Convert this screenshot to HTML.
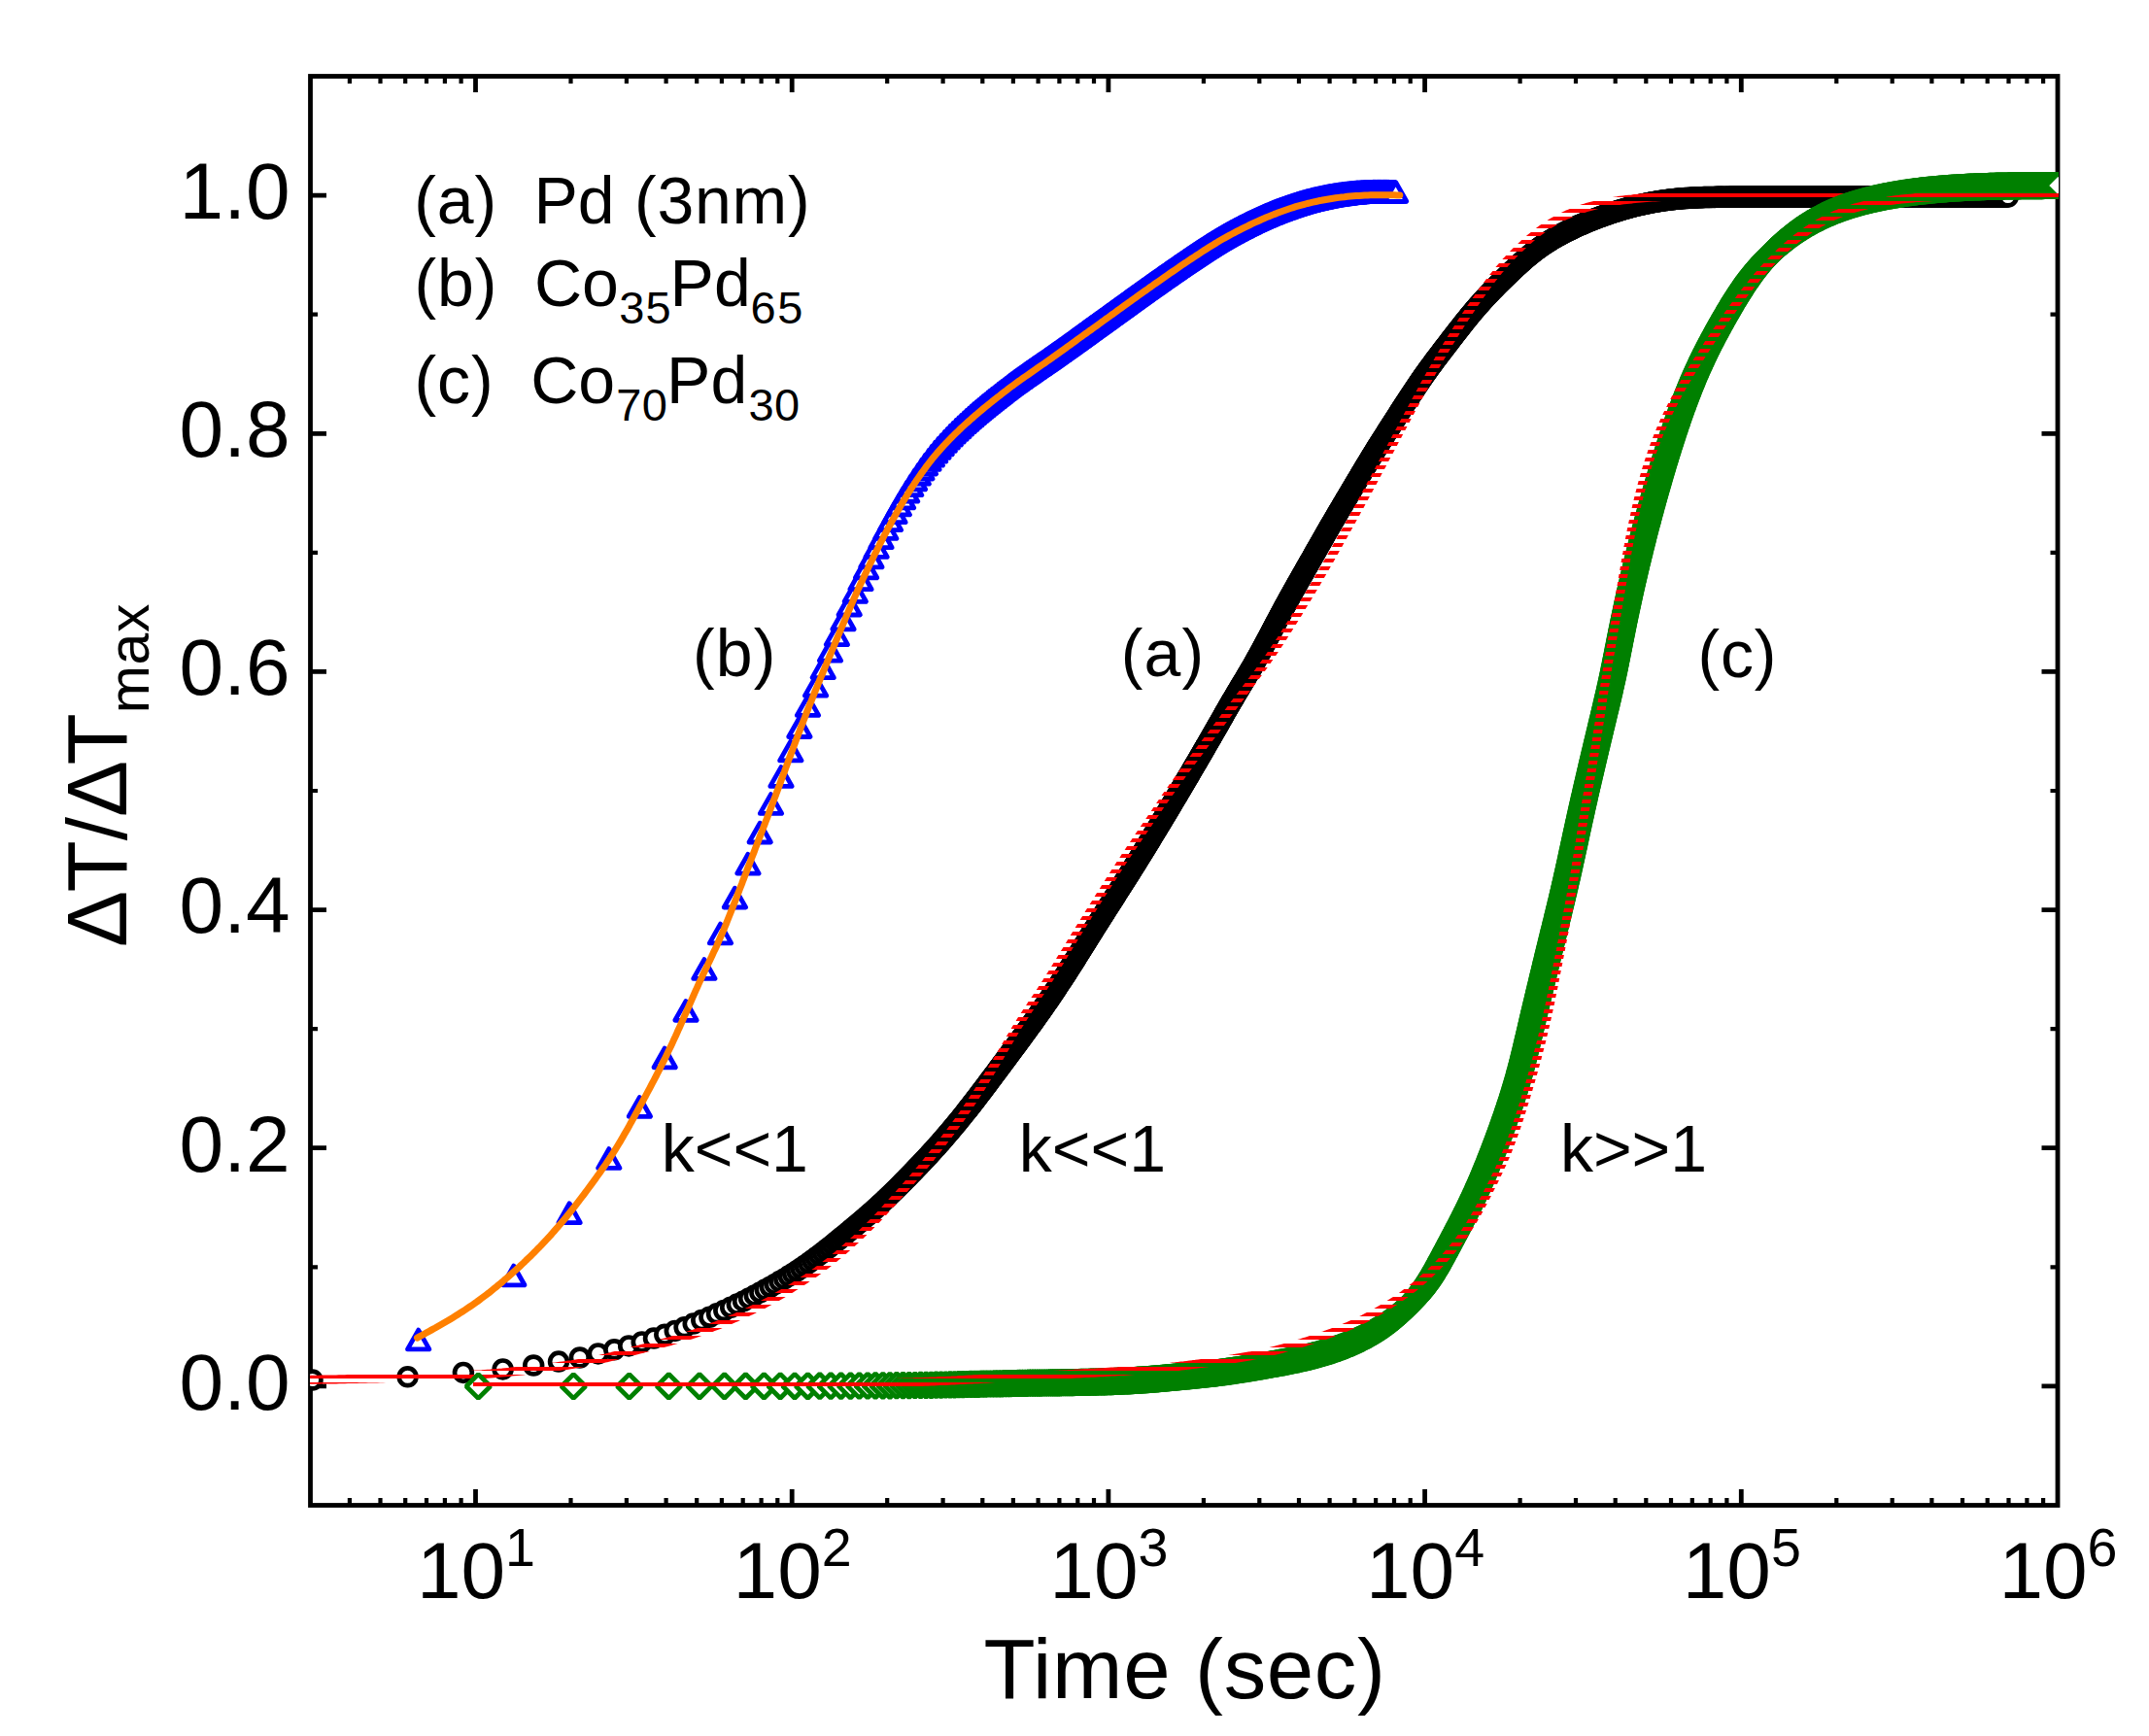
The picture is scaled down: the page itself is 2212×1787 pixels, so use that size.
<!DOCTYPE html>
<html lang="en"><head><meta charset="utf-8"><title>Plot</title>
<style>html,body{margin:0;padding:0;background:#fff}svg{display:block}text{font-family:"Liberation Sans",Arial,sans-serif;fill:#000}</style></head><body>
<svg width="2212" height="1787" viewBox="0 0 2212 1787">
<rect width="2212" height="1787" fill="#fff"/>
<defs>
<clipPath id="cp"><rect x="319" y="76" width="1800" height="1476"/></clipPath>
<pattern id="st" patternUnits="userSpaceOnUse" x="0" y="-1" width="8" height="8"><rect x="0" y="0" width="8" height="4" fill="#f00"/></pattern>
<marker id="mc" markerUnits="userSpaceOnUse" markerWidth="30" markerHeight="30" refX="15" refY="15" overflow="visible"><circle cx="15" cy="15" r="8.9" fill="#fff" stroke="#000" stroke-width="4.7"/></marker>
<marker id="md" markerUnits="userSpaceOnUse" markerWidth="40" markerHeight="40" refX="20" refY="20" overflow="visible"><path d="M20 7.6L32.4 20L20 32.4L7.6 20Z" fill="#fff" stroke="#008000" stroke-width="4.8" stroke-linejoin="bevel"/></marker>
<marker id="mt" markerUnits="userSpaceOnUse" markerWidth="40" markerHeight="40" refX="20" refY="20" overflow="visible"><path d="M20 10.1L31.2 29.9L8.8 29.9Z" fill="#fff" stroke="#00f" stroke-width="4.8" stroke-linejoin="round"/></marker>
</defs>
<g stroke="#000" stroke-width="4.8" fill="none" stroke-linecap="butt">
<rect x="319.5" y="78.5" width="1798.5" height="1471"/>
<path d="M489.5 1549.5v-16.5M489.5 78.5v16.5M815.2 1549.5v-16.5M815.2 78.5v16.5M1140.9 1549.5v-16.5M1140.9 78.5v16.5M1466.6 1549.5v-16.5M1466.6 78.5v16.5M1792.3 1549.5v-16.5M1792.3 78.5v16.5M319.5 1426.9h16.5M2118 1426.9h-16.5M319.5 1181.7h16.5M2118 1181.7h-16.5M319.5 936.6h16.5M2118 936.6h-16.5M319.5 691.4h16.5M2118 691.4h-16.5M319.5 446.3h16.5M2118 446.3h-16.5M319.5 201.1h16.5M2118 201.1h-16.5"/>
<path stroke-width="4.2" d="M359.9 1549.5v-7.5M359.9 78.5v7.5M391.5 1549.5v-7.5M391.5 78.5v7.5M417.2 1549.5v-7.5M417.2 78.5v7.5M439 1549.5v-7.5M439 78.5v7.5M457.9 1549.5v-7.5M457.9 78.5v7.5M474.6 1549.5v-7.5M474.6 78.5v7.5M587.5 1549.5v-7.5M587.5 78.5v7.5M644.9 1549.5v-7.5M644.9 78.5v7.5M685.6 1549.5v-7.5M685.6 78.5v7.5M717.2 1549.5v-7.5M717.2 78.5v7.5M742.9 1549.5v-7.5M742.9 78.5v7.5M764.7 1549.5v-7.5M764.7 78.5v7.5M783.6 1549.5v-7.5M783.6 78.5v7.5M800.3 1549.5v-7.5M800.3 78.5v7.5M913.2 1549.5v-7.5M913.2 78.5v7.5M970.6 1549.5v-7.5M970.6 78.5v7.5M1011.3 1549.5v-7.5M1011.3 78.5v7.5M1042.9 1549.5v-7.5M1042.9 78.5v7.5M1068.6 1549.5v-7.5M1068.6 78.5v7.5M1090.4 1549.5v-7.5M1090.4 78.5v7.5M1109.3 1549.5v-7.5M1109.3 78.5v7.5M1126 1549.5v-7.5M1126 78.5v7.5M1238.9 1549.5v-7.5M1238.9 78.5v7.5M1296.3 1549.5v-7.5M1296.3 78.5v7.5M1337 1549.5v-7.5M1337 78.5v7.5M1368.6 1549.5v-7.5M1368.6 78.5v7.5M1394.3 1549.5v-7.5M1394.3 78.5v7.5M1416.1 1549.5v-7.5M1416.1 78.5v7.5M1435 1549.5v-7.5M1435 78.5v7.5M1451.7 1549.5v-7.5M1451.7 78.5v7.5M1564.6 1549.5v-7.5M1564.6 78.5v7.5M1622 1549.5v-7.5M1622 78.5v7.5M1662.7 1549.5v-7.5M1662.7 78.5v7.5M1694.3 1549.5v-7.5M1694.3 78.5v7.5M1720 1549.5v-7.5M1720 78.5v7.5M1741.8 1549.5v-7.5M1741.8 78.5v7.5M1760.7 1549.5v-7.5M1760.7 78.5v7.5M1777.4 1549.5v-7.5M1777.4 78.5v7.5M1890.3 1549.5v-7.5M1890.3 78.5v7.5M1947.7 1549.5v-7.5M1947.7 78.5v7.5M1988.4 1549.5v-7.5M1988.4 78.5v7.5M2020 1549.5v-7.5M2020 78.5v7.5M2045.7 1549.5v-7.5M2045.7 78.5v7.5M2067.5 1549.5v-7.5M2067.5 78.5v7.5M2086.4 1549.5v-7.5M2086.4 78.5v7.5M2103.1 1549.5v-7.5M2103.1 78.5v7.5M319.5 1304.3h7.5M2118 1304.3h-7.5M319.5 1059.2h7.5M2118 1059.2h-7.5M319.5 814h7.5M2118 814h-7.5M319.5 568.8h7.5M2118 568.8h-7.5M319.5 323.7h7.5M2118 323.7h-7.5"/>
</g>
<g clip-path="url(#cp)" fill="none">
<polyline points="321.5,1420.5 419.6,1417.3 476.9,1412.9 517.6,1409.4 549.2,1405.5 575,1401.6 596.8,1397.5 615.7,1393.4 632.3,1389.3 647.2,1385.4 660.7,1381.4 673,1377.6 684.3,1373.7 694.8,1369.9 704.6,1366.3 713.7,1362.6 722.3,1359.1 730.4,1355.7 738,1352.3 745.3,1349 752.2,1345.7 758.8,1342.6 765.1,1339.4 771.1,1336.4 776.8,1333.4 782.4,1330.4 787.7,1327.5 792.9,1324.7 797.8,1321.9 802.6,1319.1 807.3,1316.4 811.8,1313.6 816.1,1310.9 820.3,1308.2 824.4,1305.5 828.4,1302.8 832.3,1300.1 836.1,1297.3 839.7,1294.6 843.3,1291.9 846.8,1289.3 850.2,1286.6 853.6,1284 856.8,1281.4 860,1278.8 863.1,1276.3 866.1,1273.8 869.1,1271.4 872,1269 874.9,1266.6 877.7,1264.3 880.4,1262 883.1,1259.8 885.8,1257.5 888.4,1255.3 890.9,1253.1 893.4,1251 895.9,1248.8 898.3,1246.7 900.7,1244.5 903,1242.4 905.3,1240.3 907.6,1238.2 909.8,1236.1 912,1234.1 914.2,1232 916.3,1229.9 918.4,1227.9 920.4,1225.9 922.5,1223.9 924.5,1221.9 926.5,1219.9 928.4,1217.9 930.3,1216 932.2,1214.1 934.1,1212.2 936,1210.3 937.8,1208.4 939.6,1206.5 941.4,1204.7 943.1,1202.8 944.9,1201 946.6,1199.2 948.3,1197.4 949.9,1195.7 951.6,1193.9 953.2,1192.2 954.9,1190.4 956.5,1188.7 958,1187 959.6,1185.3 961.1,1183.6 962.7,1181.9 964.2,1180.2 965.7,1178.5 967.2,1176.9 968.6,1175.2 970.1,1173.5 971.5,1171.9 972.9,1170.3 974.3,1168.6 975.7,1167 977.1,1165.4 978.5,1163.8 979.8,1162.1 981.2,1160.5 982.5,1158.9 983.8,1157.4 985.1,1155.8 986.4,1154.2 987.7,1152.6 989,1151.1 990.2,1149.5 991.5,1147.9 992.7,1146.4 993.9,1144.9 995.1,1143.3 995.9,1142.4 996.6,1141.4 997.4,1140.5 998.1,1139.5 998.9,1138.6 999.6,1137.7 1000.3,1136.7 1001.1,1135.8 1001.8,1134.8 1002.5,1133.9 1003.3,1132.9 1004,1132 1004.7,1131 1005.5,1130 1006.2,1129.1 1006.9,1128.1 1007.7,1127.2 1008.4,1126.2 1009.1,1125.3 1009.8,1124.3 1010.6,1123.4 1011.3,1122.4 1012,1121.4 1012.7,1120.5 1013.5,1119.5 1014.2,1118.6 1014.9,1117.6 1015.6,1116.7 1016.3,1115.7 1017.1,1114.7 1017.8,1113.8 1018.5,1112.8 1019.2,1111.8 1019.9,1110.9 1020.7,1109.9 1021.4,1109 1022.1,1108 1022.8,1107 1023.5,1106.1 1024.3,1105.1 1025,1104.1 1025.7,1103.2 1026.4,1102.2 1027.1,1101.3 1027.8,1100.3 1028.6,1099.3 1029.3,1098.4 1030,1097.4 1030.7,1096.4 1031.4,1095.5 1032.1,1094.5 1032.9,1093.5 1033.6,1092.6 1034.3,1091.6 1035,1090.7 1035.7,1089.7 1036.4,1088.7 1037.2,1087.8 1037.9,1086.8 1038.6,1085.8 1039.3,1084.9 1040,1083.9 1040.7,1082.9 1041.4,1082 1042.2,1081 1042.9,1080.1 1043.6,1079.1 1044.3,1078.1 1045,1077.2 1045.7,1076.2 1046.5,1075.2 1047.2,1074.3 1047.9,1073.3 1048.6,1072.3 1049.3,1071.4 1050,1070.4 1050.7,1069.4 1051.4,1068.5 1052.2,1067.5 1052.9,1066.5 1053.6,1065.6 1054.3,1064.6 1055,1063.6 1055.7,1062.6 1056.4,1061.7 1057.1,1060.7 1057.8,1059.7 1058.5,1058.8 1059.2,1057.8 1059.9,1056.8 1060.6,1055.9 1061.4,1054.9 1062.1,1053.9 1062.8,1052.9 1063.5,1052 1064.2,1051 1064.9,1050 1065.6,1049 1066.3,1048.1 1067,1047.1 1067.7,1046.1 1068.4,1045.1 1069,1044.1 1069.7,1043.2 1070.4,1042.2 1071.1,1041.2 1071.8,1040.2 1072.5,1039.2 1073.2,1038.3 1073.9,1037.3 1074.6,1036.3 1075.3,1035.3 1075.9,1034.3 1076.6,1033.3 1077.3,1032.3 1078,1031.4 1078.7,1030.4 1079.4,1029.4 1080,1028.4 1080.7,1027.4 1081.4,1026.4 1082.1,1025.4 1082.7,1024.4 1083.4,1023.4 1084.1,1022.4 1084.8,1021.4 1085.4,1020.4 1086.1,1019.4 1086.8,1018.4 1087.4,1017.4 1088.1,1016.4 1088.8,1015.4 1089.4,1014.4 1090.1,1013.4 1090.7,1012.4 1091.4,1011.4 1092.1,1010.4 1092.7,1009.4 1093.4,1008.4 1094,1007.4 1094.7,1006.4 1095.3,1005.4 1096,1004.4 1096.7,1003.4 1097.3,1002.4 1098,1001.4 1098.6,1000.3 1099.3,999.3 1099.9,998.3 1100.5,997.3 1101.2,996.3 1101.8,995.3 1102.5,994.3 1103.1,993.3 1103.8,992.2 1104.4,991.2 1105.1,990.2 1105.7,989.2 1106.3,988.2 1107,987.2 1107.6,986.2 1108.3,985.1 1108.9,984.1 1109.5,983.1 1110.2,982.1 1110.8,981.1 1111.5,980.1 1112.1,979 1112.7,978 1113.4,977 1114,976 1114.6,975 1115.3,973.9 1115.9,972.9 1116.5,971.9 1117.2,970.9 1117.8,969.9 1118.5,968.9 1119.1,967.8 1119.7,966.8 1120.4,965.8 1121,964.8 1121.6,963.8 1122.3,962.7 1122.9,961.7 1123.5,960.7 1124.2,959.7 1124.8,958.7 1125.5,957.7 1126.1,956.6 1126.7,955.6 1127.4,954.6 1128,953.6 1128.7,952.6 1129.3,951.6 1129.9,950.5 1130.6,949.5 1131.2,948.5 1131.9,947.5 1132.5,946.5 1133.1,945.5 1133.8,944.4 1134.4,943.4 1135.1,942.4 1135.7,941.4 1136.4,940.4 1137,939.4 1137.6,938.4 1138.3,937.3 1138.9,936.3 1139.6,935.3 1140.2,934.3 1140.9,933.3 1141.5,932.3 1142.2,931.3 1142.8,930.3 1143.5,929.3 1144.1,928.2 1144.8,927.2 1145.4,926.2 1146,925.2 1146.7,924.2 1147.3,923.2 1148,922.2 1148.6,921.2 1149.3,920.1 1149.9,919.1 1150.6,918.1 1151.2,917.1 1151.9,916.1 1152.5,915.1 1153.2,914.1 1153.8,913.1 1154.5,912.1 1155.1,911 1155.7,910 1156.4,909 1157,908 1157.7,907 1158.3,906 1159,905 1159.6,903.9 1160.2,902.9 1160.9,901.9 1161.5,900.9 1162.2,899.9 1162.8,898.9 1163.5,897.9 1164.1,896.8 1164.7,895.8 1165.4,894.8 1166,893.8 1166.6,892.8 1167.3,891.7 1167.9,890.7 1168.6,889.7 1169.2,888.7 1169.8,887.7 1170.5,886.7 1171.1,885.6 1171.7,884.6 1172.4,883.6 1173,882.6 1173.6,881.6 1174.3,880.5 1174.9,879.5 1175.5,878.5 1176.2,877.5 1176.8,876.4 1177.4,875.4 1178,874.4 1178.7,873.4 1179.3,872.4 1179.9,871.3 1180.6,870.3 1181.2,869.3 1181.8,868.3 1182.4,867.2 1183.1,866.2 1183.7,865.2 1184.3,864.2 1185,863.1 1185.6,862.1 1186.2,861.1 1186.8,860.1 1187.4,859 1188.1,858 1188.7,857 1189.3,856 1189.9,854.9 1190.6,853.9 1191.2,852.9 1191.8,851.8 1192.4,850.8 1193.1,849.8 1193.7,848.8 1194.3,847.7 1194.9,846.7 1195.5,845.7 1196.2,844.7 1196.8,843.6 1197.4,842.6 1198,841.6 1198.6,840.5 1199.3,839.5 1199.9,838.5 1200.5,837.4 1201.1,836.4 1201.7,835.4 1202.3,834.4 1203,833.3 1203.6,832.3 1204.2,831.3 1204.8,830.2 1205.4,829.2 1206,828.2 1206.7,827.1 1207.3,826.1 1207.9,825.1 1208.5,824 1209.1,823 1209.7,822 1210.3,821 1211,819.9 1211.6,818.9 1212.2,817.9 1212.8,816.8 1213.4,815.8 1214,814.8 1214.6,813.7 1215.2,812.7 1215.9,811.7 1216.5,810.6 1217.1,809.6 1217.7,808.6 1218.3,807.5 1218.9,806.5 1219.5,805.4 1220.1,804.4 1220.7,803.4 1221.3,802.3 1221.9,801.3 1222.6,800.3 1223.2,799.2 1223.8,798.2 1224.4,797.2 1225,796.1 1225.6,795.1 1226.2,794.1 1226.8,793 1227.4,792 1228,791 1228.6,789.9 1229.2,788.9 1229.8,787.8 1230.5,786.8 1231.1,785.8 1231.7,784.7 1232.3,783.7 1232.9,782.7 1233.5,781.6 1234.1,780.6 1234.7,779.5 1235.3,778.5 1235.9,777.5 1236.5,776.4 1237.1,775.4 1237.7,774.4 1238.3,773.3 1238.9,772.3 1239.5,771.2 1240.1,770.2 1240.7,769.2 1241.3,768.1 1241.9,767.1 1242.5,766.1 1243.1,765 1243.7,764 1244.3,762.9 1244.9,761.9 1245.6,760.9 1246.2,759.8 1246.8,758.8 1247.3,757.7 1247.9,756.7 1248.5,755.7 1249.1,754.6 1249.7,753.6 1250.3,752.5 1250.9,751.5 1251.5,750.4 1252.1,749.4 1252.7,748.4 1253.3,747.3 1253.9,746.3 1254.5,745.2 1255.1,744.2 1255.7,743.1 1256.3,742.1 1256.9,741.1 1257.5,740 1258.1,739 1258.7,737.9 1259.3,736.9 1259.9,735.8 1260.4,734.8 1261,733.7 1261.6,732.7 1262.2,731.7 1262.8,730.6 1263.4,729.6 1264,728.5 1264.6,727.5 1265.2,726.5 1265.8,725.4 1266.4,724.4 1267,723.3 1267.6,722.3 1268.2,721.3 1268.9,720.2 1269.5,719.2 1270.1,718.2 1270.7,717.1 1271.3,716.1 1271.9,715.1 1272.5,714 1273.1,713 1273.7,712 1274.4,710.9 1275,709.9 1275.6,708.9 1276.2,707.8 1276.8,706.8 1277.4,705.8 1278.1,704.7 1278.7,703.7 1279.3,702.7 1279.9,701.7 1280.5,700.6 1281.2,699.6 1281.8,698.6 1282.4,697.5 1283,696.5 1283.6,695.5 1284.2,694.4 1284.8,693.4 1285.4,692.4 1286.1,691.3 1286.7,690.3 1287.3,689.3 1287.9,688.2 1288.5,687.2 1289.1,686.2 1289.7,685.1 1290.3,684.1 1290.9,683 1291.5,682 1292.1,680.9 1292.6,679.9 1293.2,678.8 1293.8,677.8 1294.4,676.7 1295,675.7 1295.6,674.6 1296.2,673.6 1296.7,672.5 1297.3,671.5 1297.9,670.4 1298.5,669.4 1299,668.3 1299.6,667.3 1300.2,666.2 1300.7,665.2 1301.3,664.1 1301.9,663 1302.4,662 1303,660.9 1303.6,659.9 1304.1,658.8 1304.7,657.7 1305.3,656.7 1305.8,655.6 1306.4,654.6 1306.9,653.5 1307.5,652.4 1308.1,651.4 1308.6,650.3 1309.2,649.2 1309.7,648.2 1310.3,647.1 1310.9,646 1311.4,645 1312,643.9 1312.5,642.9 1313.1,641.8 1313.6,640.7 1314.2,639.7 1314.8,638.6 1315.3,637.6 1315.9,636.5 1316.5,635.4 1317,634.4 1317.6,633.3 1318.2,632.3 1318.7,631.2 1319.3,630.1 1319.9,629.1 1320.4,628 1321,627 1321.6,625.9 1322.1,624.8 1322.7,623.8 1323.3,622.7 1323.9,621.7 1324.4,620.6 1325,619.6 1325.6,618.5 1326.2,617.5 1326.7,616.4 1327.3,615.4 1327.9,614.3 1328.5,613.3 1329.1,612.2 1329.7,611.2 1330.2,610.1 1330.8,609.1 1331.4,608 1332,607 1332.6,605.9 1333.2,604.9 1333.8,603.8 1334.4,602.8 1334.9,601.7 1335.5,600.7 1336.1,599.7 1336.7,598.6 1337.3,597.6 1337.9,596.5 1338.5,595.5 1339.1,594.4 1339.7,593.4 1340.3,592.3 1340.9,591.3 1341.5,590.3 1342.1,589.2 1342.7,588.2 1343.2,587.1 1343.8,586.1 1344.4,585 1345,584 1345.6,582.9 1346.2,581.9 1346.8,580.9 1347.4,579.8 1348,578.8 1348.6,577.7 1349.2,576.7 1349.8,575.6 1350.4,574.6 1351,573.6 1351.6,572.5 1352.2,571.5 1352.7,570.4 1353.3,569.4 1353.9,568.3 1354.5,567.3 1355.1,566.2 1355.7,565.2 1356.3,564.2 1356.9,563.1 1357.5,562.1 1358.1,561 1358.7,560 1359.3,558.9 1359.9,557.9 1360.5,556.9 1361.1,555.8 1361.7,554.8 1362.3,553.7 1362.9,552.7 1363.4,551.6 1364,550.6 1364.6,549.6 1365.2,548.5 1365.8,547.5 1366.4,546.4 1367,545.4 1367.6,544.4 1368.2,543.3 1368.8,542.3 1369.4,541.2 1370,540.2 1370.6,539.2 1371.2,538.1 1371.9,537.1 1372.5,536 1373.1,535 1373.7,534 1374.3,532.9 1374.9,531.9 1375.5,530.9 1376.1,529.8 1376.7,528.8 1377.3,527.7 1377.9,526.7 1378.5,525.7 1379.1,524.6 1379.7,523.6 1380.4,522.6 1381,521.5 1381.6,520.5 1382.2,519.5 1382.8,518.4 1383.4,517.4 1384,516.4 1384.6,515.3 1385.2,514.3 1385.9,513.3 1386.5,512.2 1387.1,511.2 1387.7,510.2 1388.3,509.1 1388.9,508.1 1389.5,507.1 1390.2,506 1390.8,505 1391.4,504 1392,503 1392.6,501.9 1393.2,500.9 1393.8,499.9 1394.5,498.8 1395.1,497.8 1395.7,496.8 1396.3,495.7 1396.9,494.7 1397.5,493.7 1398.1,492.6 1398.8,491.6 1399.4,490.6 1400,489.5 1400.6,488.5 1401.2,487.5 1401.8,486.4 1402.4,485.4 1403.1,484.4 1403.7,483.4 1404.3,482.3 1404.9,481.3 1405.5,480.3 1406.2,479.2 1406.8,478.2 1407.4,477.2 1408,476.2 1408.6,475.1 1409.3,474.1 1409.9,473.1 1410.5,472 1411.1,471 1411.8,470 1412.4,469 1413,467.9 1413.6,466.9 1414.3,465.9 1414.9,464.9 1415.5,463.9 1416.2,462.8 1416.8,461.8 1417.4,460.8 1418.1,459.8 1418.7,458.8 1419.4,457.7 1420,456.7 1420.6,455.7 1421.3,454.7 1421.9,453.7 1422.5,452.7 1423.2,451.6 1423.8,450.6 1424.5,449.6 1425.1,448.6 1425.8,447.6 1426.4,446.6 1427,445.6 1427.7,444.5 1428.3,443.5 1429,442.5 1429.6,441.5 1430.3,440.5 1430.9,439.5 1431.6,438.5 1432.2,437.5 1432.9,436.5 1433.5,435.4 1434.2,434.4 1434.8,433.4 1435.5,432.4 1436.1,431.4 1436.8,430.4 1437.4,429.4 1438.1,428.4 1438.7,427.4 1439.4,426.4 1440,425.3 1440.7,424.3 1441.3,423.3 1442,422.3 1442.6,421.3 1443.3,420.3 1443.9,419.3 1444.6,418.3 1445.2,417.3 1445.9,416.3 1446.5,415.3 1447.2,414.3 1447.9,413.3 1448.5,412.3 1449.2,411.2 1449.8,410.2 1450.5,409.2 1451.1,408.2 1451.8,407.2 1452.5,406.2 1453.1,405.2 1453.8,404.2 1454.5,403.2 1455.1,402.2 1455.8,401.2 1456.5,400.2 1457.1,399.2 1457.8,398.2 1458.5,397.2 1459.1,396.2 1459.8,395.2 1460.5,394.3 1461.2,393.3 1461.8,392.3 1462.5,391.3 1463.2,390.3 1463.9,389.3 1464.6,388.3 1465.3,387.3 1465.9,386.3 1466.6,385.4 1467.3,384.4 1468,383.4 1468.7,382.4 1469.4,381.5 1470.1,380.5 1470.8,379.5 1471.5,378.5 1472.2,377.6 1473,376.6 1473.7,375.6 1474.4,374.7 1475.1,373.7 1475.8,372.7 1476.5,371.8 1477.2,370.8 1478,369.8 1478.7,368.9 1479.4,367.9 1480.1,367 1480.9,366 1481.6,365.1 1482.3,364.1 1483,363.1 1483.8,362.2 1484.5,361.2 1485.2,360.3 1485.9,359.3 1486.7,358.4 1487.4,357.4 1488.1,356.5 1488.9,355.5 1489.6,354.6 1490.3,353.6 1491.1,352.7 1491.8,351.7 1492.5,350.8 1493.3,349.8 1494,348.8 1494.7,347.9 1495.5,346.9 1496.2,346 1496.9,345 1497.7,344.1 1498.4,343.1 1499.1,342.2 1499.9,341.2 1500.6,340.3 1501.3,339.4 1502.1,338.4 1502.8,337.5 1503.6,336.5 1504.3,335.6 1505.1,334.6 1505.8,333.7 1506.5,332.7 1507.3,331.8 1508,330.9 1508.8,329.9 1509.5,329 1510.3,328.1 1511.1,327.1 1511.8,326.2 1512.6,325.3 1513.3,324.3 1514.1,323.4 1514.9,322.5 1515.6,321.6 1516.4,320.6 1517.2,319.7 1518,318.8 1518.8,317.9 1519.5,317 1520.3,316.1 1521.1,315.2 1521.9,314.3 1522.7,313.4 1523.5,312.5 1524.3,311.6 1525.1,310.7 1525.9,309.8 1526.7,308.9 1527.5,308 1528.3,307.1 1529.1,306.3 1530,305.4 1530.8,304.5 1531.6,303.6 1532.4,302.8 1533.3,301.9 1534.1,301 1534.9,300.1 1535.8,299.3 1536.6,298.4 1537.4,297.6 1538.3,296.7 1539.1,295.8 1540,295 1540.8,294.1 1541.6,293.3 1542.5,292.4 1543.3,291.6 1544.2,290.7 1545,289.9 1545.9,289.1 1546.8,288.2 1547.6,287.4 1548.5,286.5 1549.3,285.7 1550.2,284.9 1551.1,284 1551.9,283.2 1552.8,282.4 1553.7,281.5 1554.5,280.7 1555.4,279.9 1556.3,279 1557.1,278.2 1558,277.4 1558.9,276.6 1559.8,275.8 1560.7,274.9 1561.5,274.1 1562.4,273.3 1563.3,272.5 1564.2,271.7 1565.1,270.9 1566,270.1 1566.9,269.3 1567.8,268.5 1568.7,267.7 1569.6,266.9 1570.5,266.1 1571.4,265.4 1572.3,264.6 1573.3,263.8 1574.2,263.1 1575.1,262.3 1576,261.5 1577,260.8 1577.9,260 1578.9,259.3 1579.8,258.6 1580.8,257.8 1581.7,257.1 1582.7,256.4 1583.7,255.7 1584.6,255 1585.6,254.3 1586.6,253.6 1587.6,252.9 1588.6,252.3 1589.6,251.6 1590.6,250.9 1591.6,250.3 1592.6,249.6 1593.6,249 1594.6,248.3 1595.6,247.7 1596.7,247.1 1597.7,246.4 1598.7,245.8 1599.8,245.2 1600.8,244.6 1601.8,244 1602.9,243.4 1603.9,242.8 1605,242.3 1606,241.7 1607.1,241.1 1608.2,240.5 1609.2,240 1610.3,239.4 1611.4,238.9 1612.4,238.3 1613.5,237.8 1614.6,237.3 1615.7,236.7 1616.7,236.2 1617.8,235.7 1618.9,235.2 1620,234.6 1621.1,234.1 1622.2,233.6 1623.2,233.1 1624.3,232.6 1625.4,232.1 1626.5,231.6 1627.6,231.2 1628.7,230.7 1629.8,230.2 1630.9,229.7 1632,229.3 1633.1,228.8 1634.3,228.3 1635.4,227.9 1636.5,227.4 1637.6,227 1638.7,226.5 1639.8,226.1 1640.9,225.6 1642.1,225.2 1643.2,224.8 1644.3,224.4 1645.4,223.9 1646.6,223.5 1647.7,223.1 1648.8,222.7 1649.9,222.3 1651.1,221.9 1652.2,221.5 1653.3,221.1 1654.5,220.7 1655.6,220.3 1656.7,219.9 1657.9,219.5 1659,219.1 1660.2,218.8 1661.3,218.4 1662.4,218 1663.6,217.7 1664.7,217.3 1665.9,217 1667,216.6 1668.2,216.3 1669.3,215.9 1670.5,215.6 1671.6,215.3 1672.8,214.9 1674,214.6 1675.1,214.3 1676.3,214 1677.4,213.6 1678.6,213.3 1679.7,213 1680.9,212.7 1682.1,212.4 1683.2,212.1 1684.4,211.8 1685.6,211.6 1686.7,211.3 1687.9,211 1689.1,210.7 1690.3,210.5 1691.4,210.2 1692.6,210 1693.8,209.7 1694.9,209.5 1696.1,209.2 1697.3,209 1698.5,208.8 1699.7,208.5 1700.8,208.3 1702,208.1 1703.2,207.9 1704.4,207.7 1705.6,207.5 1706.8,207.3 1707.9,207.1 1709.1,206.9 1710.3,206.7 1711.5,206.6 1712.7,206.4 1713.9,206.2 1715.1,206.1 1716.3,205.9 1717.5,205.8 1718.6,205.6 1719.8,205.5 1721,205.3 1722.2,205.2 1723.4,205.1 1724.6,204.9 1725.8,204.8 1727,204.7 1728.2,204.6 1729.4,204.5 1730.6,204.4 1731.8,204.3 1733,204.2 1734.2,204.1 1735.4,204 1736.6,203.9 1737.8,203.9 1739,203.8 1740.2,203.7 1741.4,203.7 1742.6,203.6 1743.8,203.5 1745,203.5 1746.2,203.4 1747.4,203.4 1748.6,203.3 1749.8,203.3 1751,203.2 1752.2,203.2 1753.4,203.1 1754.6,203.1 1755.8,203.1 1757,203 1758.2,203 1759.4,203 1760.6,203 1761.8,202.9 1763,202.9 1764.2,202.9 1765.4,202.9 1766.6,202.8 1767.8,202.8 1769,202.8 1770.2,202.8 1771.4,202.8 1772.6,202.7 1773.8,202.7 1775,202.7 1776.2,202.7 1777.4,202.7 1778.6,202.7 1779.8,202.7 1781,202.6 1782.2,202.6 1783.4,202.6 1784.6,202.6 1785.8,202.6 1787,202.6 1788.2,202.6 1789.4,202.6 1790.6,202.6 1791.8,202.6 1793,202.6 1794.2,202.6 1795.4,202.6 1796.6,202.6 1797.8,202.5 1799,202.5 1800.2,202.5 1801.4,202.5 1802.6,202.5 1803.8,202.5 1805,202.5 1806.2,202.5 1807.4,202.5 1808.6,202.5 1809.8,202.5 1811,202.5 1812.2,202.5 1813.4,202.5 1814.6,202.5 1815.8,202.5 1817,202.5 1818.2,202.5 1819.4,202.5 1820.6,202.5 1821.8,202.5 1823,202.5 1824.2,202.5 1825.4,202.5 1826.6,202.5 1827.8,202.5 1829,202.5 1830.2,202.5 1831.4,202.5 1832.6,202.5 1833.8,202.5 1835,202.5 1836.2,202.5 1837.4,202.5 1838.6,202.5 1839.8,202.5 1841,202.5 1842.2,202.5 1843.4,202.5 1844.6,202.5 1845.8,202.5 1847,202.5 1848.2,202.5 1849.4,202.5 1850.6,202.5 1851.8,202.5 1853,202.5 1854.2,202.5 1855.4,202.5 1856.6,202.5 1857.8,202.5 1859,202.5 1860.2,202.5 1861.4,202.5 1862.6,202.5 1863.8,202.5 1865,202.5 1866.3,202.5 1867.5,202.5 1868.7,202.5 1869.9,202.5 1871.1,202.5 1872.3,202.5 1873.5,202.5 1874.7,202.5 1875.9,202.5 1877.1,202.5 1878.3,202.5 1879.5,202.5 1880.7,202.5 1881.9,202.5 1883.1,202.5 1884.3,202.5 1885.5,202.5 1886.7,202.5 1887.9,202.5 1889.1,202.5 1890.3,202.5 1891.5,202.5 1892.7,202.5 1893.9,202.5 1895.1,202.5 1896.3,202.5 1897.5,202.5 1898.7,202.5 1899.9,202.5 1901.1,202.5 1902.3,202.5 1903.5,202.5 1904.7,202.5 1905.9,202.5 1907.1,202.5 1908.3,202.5 1909.5,202.5 1910.7,202.5 1911.9,202.5 1913.1,202.5 1914.3,202.5 1915.5,202.5 1916.7,202.5 1917.9,202.5 1919.1,202.5 1920.3,202.5 1921.5,202.5 1922.7,202.5 1923.9,202.5 1925.1,202.5 1926.3,202.5 1927.5,202.5 1928.7,202.5 1929.9,202.5 1931.1,202.5 1932.3,202.5 1933.5,202.5 1934.7,202.5 1935.9,202.5 1937.1,202.5 1938.3,202.5 1939.5,202.5 1940.7,202.5 1941.9,202.5 1943.1,202.5 1944.3,202.5 1945.5,202.5 1946.7,202.5 1947.9,202.5 1949.1,202.5 1950.3,202.5 1951.5,202.5 1952.7,202.5 1953.9,202.5 1955.1,202.5 1956.3,202.5 1957.5,202.5 1958.7,202.5 1959.9,202.5 1961.1,202.5 1962.3,202.5 1963.5,202.5 1964.7,202.5 1965.9,202.5 1967.1,202.5 1968.3,202.5 1969.5,202.5 1970.7,202.5 1971.9,202.5 1973.1,202.5 1974.3,202.5 1975.5,202.5 1976.7,202.5 1977.9,202.5 1979.1,202.5 1980.3,202.5 1981.5,202.5 1982.7,202.5 1983.9,202.5 1985.1,202.5 1986.3,202.5 1987.5,202.5 1988.7,202.5 1989.9,202.5 1991.1,202.5 1992.3,202.5 1993.5,202.5 1994.7,202.5 1995.9,202.5 1997.1,202.5 1998.3,202.5 1999.5,202.5 2000.8,202.5 2002,202.5 2003.2,202.5 2004.4,202.5 2005.6,202.5 2006.8,202.5 2008,202.5 2009.2,202.5 2010.4,202.5 2011.6,202.5 2012.8,202.5 2014,202.5 2015.2,202.5 2016.4,202.5 2017.6,202.5 2018.8,202.5 2020,202.5 2021.2,202.5 2022.4,202.5 2023.6,202.5 2024.8,202.5 2026,202.5 2027.2,202.5 2028.4,202.5 2029.6,202.5 2030.8,202.5 2032,202.5 2033.2,202.5 2034.4,202.5 2035.6,202.5 2036.8,202.5 2038,202.5 2039.2,202.5 2040.4,202.5 2041.6,202.5 2042.8,202.5 2044,202.5 2045.2,202.5 2046.4,202.5 2047.6,202.5 2048.8,202.5 2050,202.5 2051.2,202.5 2052.4,202.5 2053.6,202.5 2054.8,202.5 2056,202.5 2057.2,202.5 2058.4,202.5 2059.6,202.5 2060.8,202.5 2062,202.5 2063.2,202.5 2064.4,202.5 2065.6,202.5 2066.8,202.5" stroke="none" marker-start="url(#mc)" marker-mid="url(#mc)" marker-end="url(#mc)"/>
<polyline points="310,1420.5 313,1420.5 316,1420.4 319,1420.3 322,1420.3 325,1420.2 328,1420.2 331,1420.1 334,1420.1 337,1420 340,1420 343,1419.9 346,1419.9 349,1419.8 352,1419.7 355,1419.7 358,1419.6 361,1419.5 364,1419.5 367,1419.4 370,1419.3 373,1419.2 376.1,1419.2 379.1,1419.1 382.1,1419 385.1,1418.9 388.1,1418.9 391.1,1418.8 394.1,1418.7 397.1,1418.6 400.1,1418.5 403.1,1418.5 406.1,1418.4 409.1,1418.3 412.1,1418.2 415.1,1418.1 418.1,1418 421.1,1417.9 424.1,1417.9 427.1,1417.8 430.1,1417.7 433.1,1417.6 436.1,1417.5 439.1,1417.4 442.1,1417.3 445.1,1417.2 448.1,1417.1 451.1,1416.9 454.1,1416.8 457.1,1416.7 460.1,1416.6 463.1,1416.5 466.1,1416.3 469.1,1416.2 472.1,1416.1 475.1,1415.9 478.1,1415.7 481.1,1415.6 484.1,1415.4 487.1,1415.2 490.1,1415 493.1,1414.9 496.1,1414.7 499.1,1414.4 502.1,1414.2 505.1,1414 508.1,1413.7 511,1413.5 514,1413.2 517,1413 520,1412.7 523,1412.4 526,1412.1 529,1411.8 532,1411.5 535,1411.2 537.9,1410.9 540.9,1410.6 543.9,1410.3 546.9,1409.9 549.9,1409.6 552.9,1409.2 555.9,1408.9 558.8,1408.5 561.8,1408.2 564.8,1407.8 567.8,1407.4 570.8,1407.1 573.7,1406.7 576.7,1406.3 579.7,1405.9 582.7,1405.5 585.6,1405 588.6,1404.6 591.6,1404.1 594.5,1403.6 597.5,1403.1 600.5,1402.6 603.4,1402.1 606.4,1401.5 609.3,1401 612.2,1400.4 615.2,1399.8 618.1,1399.1 621.1,1398.4 624,1397.8 626.9,1397.1 629.8,1396.4 632.7,1395.6 635.6,1394.9 638.6,1394.2 641.5,1393.4 644.4,1392.7 647.3,1391.9 650.2,1391.2 653.1,1390.4 656,1389.6 658.9,1388.9 661.8,1388.1 664.7,1387.4 667.6,1386.6 670.5,1385.8 673.4,1385.1 676.3,1384.3 679.2,1383.5 682.1,1382.7 685,1381.9 687.9,1381.1 690.8,1380.3 693.7,1379.4 696.5,1378.6 699.4,1377.7 702.3,1376.8 705.2,1376 708,1375 710.9,1374.1 713.7,1373.2 716.6,1372.2 719.4,1371.3 722.3,1370.3 725.1,1369.3 727.9,1368.2 730.7,1367.2 733.5,1366.1 736.3,1365.1 739.1,1364 741.9,1362.8 744.7,1361.7 747.5,1360.5 750.2,1359.4 753,1358.2 755.7,1357 758.5,1355.8 761.2,1354.5 764,1353.3 766.7,1352 769.4,1350.7 772.1,1349.5 774.8,1348.1 777.5,1346.8 780.2,1345.5 782.9,1344.1 785.5,1342.7 788.2,1341.3 790.8,1339.9 793.5,1338.5 796.1,1337 798.7,1335.5 801.3,1334 803.9,1332.5 806.5,1331 809.1,1329.4 811.6,1327.9 814.2,1326.3 816.7,1324.7 819.3,1323.1 821.8,1321.5 824.3,1319.9 826.8,1318.2 829.3,1316.6 831.8,1314.9 834.3,1313.2 836.8,1311.5 839.3,1309.8 841.7,1308 844.1,1306.3 846.6,1304.5 849,1302.7 851.3,1300.9 853.7,1299 856.1,1297.2 858.4,1295.3 860.7,1293.4 863,1291.5 865.3,1289.5 867.6,1287.6 869.9,1285.6 872.1,1283.6 874.4,1281.6 876.6,1279.6 878.8,1277.6 881.1,1275.6 883.3,1273.5 885.5,1271.5 887.6,1269.4 889.8,1267.3 892,1265.2 894.1,1263.1 896.2,1261 898.3,1258.9 900.4,1256.7 902.5,1254.6 904.6,1252.4 906.6,1250.2 908.7,1248 910.7,1245.8 912.7,1243.5 914.7,1241.3 916.7,1239.1 918.7,1236.8 920.7,1234.6 922.7,1232.4 924.7,1230.1 926.7,1227.9 928.7,1225.6 930.7,1223.4 932.7,1221.1 934.7,1218.9 936.7,1216.6 938.6,1214.4 940.6,1212.1 942.6,1209.8 944.5,1207.5 946.4,1205.2 948.4,1202.9 950.3,1200.6 952.2,1198.3 954.1,1196 956,1193.6 957.9,1191.3 959.7,1188.9 961.6,1186.6 963.5,1184.2 965.3,1181.9 967.2,1179.5 969,1177.1 970.9,1174.8 972.7,1172.4 974.5,1170 976.4,1167.6 978.2,1165.2 980,1162.8 981.8,1160.4 983.6,1158 985.3,1155.6 987.1,1153.2 988.9,1150.7 990.6,1148.3 992.3,1145.8 994,1143.3 995.7,1140.9 997.4,1138.4 999,1135.9 1000.7,1133.3 1002.3,1130.8 1003.9,1128.3 1005.5,1125.8 1007.2,1123.2 1008.8,1120.7 1010.4,1118.2 1012,1115.6 1013.5,1113.1 1015.1,1110.5 1016.7,1108 1018.3,1105.4 1019.8,1102.8 1021.4,1100.3 1023,1097.7 1024.5,1095.1 1026.1,1092.6 1027.6,1090 1029.1,1087.4 1030.6,1084.8 1032.2,1082.2 1033.7,1079.6 1035.2,1077 1036.7,1074.4 1038.2,1071.8 1039.7,1069.2 1041.3,1066.7 1042.8,1064.1 1044.3,1061.5 1045.9,1058.9 1047.5,1056.4 1049.1,1053.8 1050.7,1051.3 1052.3,1048.8 1053.9,1046.3 1055.6,1043.7 1057.2,1041.2 1058.9,1038.7 1060.6,1036.2 1062.2,1033.7 1063.9,1031.3 1065.6,1028.8 1067.3,1026.3 1068.9,1023.8 1070.6,1021.3 1072.3,1018.8 1073.9,1016.3 1075.5,1013.7 1077.2,1011.2 1078.8,1008.7 1080.4,1006.2 1082,1003.6 1083.6,1001.1 1085.2,998.5 1086.8,996 1088.4,993.4 1090,990.9 1091.5,988.3 1093.1,985.8 1094.7,983.2 1096.2,980.6 1097.8,978.1 1099.4,975.5 1100.9,973 1102.5,970.4 1104.1,967.8 1105.6,965.3 1107.2,962.7 1108.8,960.1 1110.3,957.6 1111.9,955 1113.5,952.5 1115.1,949.9 1116.7,947.4 1118.3,944.8 1119.8,942.3 1121.4,939.7 1123,937.2 1124.6,934.6 1126.2,932.1 1127.8,929.6 1129.4,927 1131,924.5 1132.6,921.9 1134.2,919.4 1135.8,916.9 1137.4,914.3 1139.1,911.8 1140.7,909.3 1142.3,906.7 1143.9,904.2 1145.5,901.7 1147.1,899.1 1148.8,896.6 1150.4,894.1 1152,891.6 1153.7,889.1 1155.3,886.5 1157,884 1158.6,881.5 1160.3,879 1162,876.5 1163.6,874 1165.3,871.6 1167,869.1 1168.7,866.6 1170.4,864.1 1172,861.6 1173.7,859.1 1175.4,856.6 1177.1,854.1 1178.8,851.7 1180.5,849.2 1182.1,846.7 1183.8,844.2 1185.5,841.7 1187.2,839.2 1188.9,836.8 1190.6,834.3 1192.3,831.8 1194,829.3 1195.7,826.8 1197.4,824.4 1199.1,821.9 1200.8,819.4 1202.5,817 1204.3,814.5 1206,812.1 1207.7,809.6 1209.5,807.2 1211.2,804.7 1213,802.3 1214.8,799.9 1216.5,797.4 1218.3,795 1220.1,792.6 1221.8,790.2 1223.6,787.8 1225.4,785.4 1227.2,782.9 1229,780.5 1230.8,778.1 1232.6,775.7 1234.4,773.3 1236.2,770.9 1238,768.5 1239.8,766.1 1241.6,763.7 1243.5,761.3 1245.3,758.9 1247.1,756.5 1248.9,754.1 1250.7,751.7 1252.5,749.3 1254.3,746.9 1256.1,744.5 1257.9,742.1 1259.7,739.7 1261.5,737.3 1263.3,734.9 1265.1,732.5 1266.8,730.1 1268.6,727.7 1270.4,725.3 1272.2,722.9 1274,720.5 1275.8,718.1 1277.7,715.7 1279.5,713.3 1281.3,710.9 1283.1,708.5 1284.9,706.1 1286.7,703.7 1288.5,701.3 1290.3,698.9 1292.1,696.5 1293.9,694.1 1295.7,691.7 1297.5,689.3 1299.3,686.8 1301,684.4 1302.8,682 1304.5,679.5 1306.2,677.1 1307.9,674.6 1309.6,672.1 1311.3,669.6 1313,667.1 1314.7,664.6 1316.3,662.1 1318,659.6 1319.6,657.1 1321.2,654.6 1322.8,652 1324.4,649.5 1326,647 1327.6,644.4 1329.2,641.9 1330.8,639.3 1332.4,636.8 1334,634.2 1335.6,631.7 1337.2,629.1 1338.7,626.6 1340.3,624 1341.9,621.4 1343.4,618.9 1345,616.3 1346.6,613.7 1348.1,611.2 1349.7,608.6 1351.2,606 1352.7,603.4 1354.3,600.9 1355.8,598.3 1357.3,595.7 1358.8,593.1 1360.3,590.5 1361.8,587.9 1363.3,585.3 1364.8,582.7 1366.3,580.1 1367.8,577.5 1369.3,574.9 1370.8,572.3 1372.3,569.6 1373.8,567 1375.2,564.4 1376.7,561.8 1378.2,559.2 1379.6,556.6 1381.1,553.9 1382.6,551.3 1384,548.7 1385.5,546.1 1387,543.4 1388.4,540.8 1389.9,538.2 1391.3,535.6 1392.8,532.9 1394.2,530.3 1395.7,527.7 1397.1,525 1398.6,522.4 1400,519.8 1401.4,517.1 1402.9,514.5 1404.3,511.9 1405.7,509.2 1407.2,506.6 1408.6,503.9 1410,501.3 1411.4,498.6 1412.9,496 1414.3,493.4 1415.7,490.7 1417.1,488.1 1418.5,485.4 1420,482.8 1421.4,480.1 1422.8,477.5 1424.2,474.8 1425.6,472.2 1427,469.5 1428.4,466.9 1429.9,464.2 1431.3,461.6 1432.7,458.9 1434.1,456.3 1435.5,453.6 1436.9,451 1438.4,448.3 1439.8,445.7 1441.2,443.1 1442.6,440.4 1444,437.8 1445.4,435.1 1446.9,432.5 1448.3,429.8 1449.7,427.2 1451.1,424.5 1452.5,421.9 1453.9,419.2 1455.4,416.6 1456.8,413.9 1458.2,411.3 1459.6,408.6 1461.1,406 1462.5,403.4 1463.9,400.7 1465.4,398.1 1466.8,395.4 1468.2,392.8 1469.7,390.2 1471.2,387.6 1472.6,384.9 1474.1,382.3 1475.6,379.7 1477.1,377.1 1478.6,374.5 1480.1,371.9 1481.6,369.3 1483.1,366.7 1484.6,364.1 1486.1,361.5 1487.7,359 1489.2,356.4 1490.8,353.8 1492.3,351.2 1493.9,348.7 1495.5,346.1 1497.1,343.6 1498.7,341 1500.3,338.5 1501.9,336 1503.5,333.4 1505.1,330.9 1506.8,328.4 1508.4,325.9 1510.1,323.4 1511.7,320.9 1513.4,318.4 1515.1,315.9 1516.8,313.4 1518.4,310.9 1520.1,308.4 1521.9,306 1523.6,303.5 1525.3,301.1 1527,298.6 1528.8,296.2 1530.6,293.8 1532.4,291.3 1534.2,288.9 1536,286.6 1537.9,284.2 1539.7,281.9 1541.6,279.5 1543.5,277.2 1545.5,274.9 1547.5,272.7 1549.4,270.4 1551.5,268.2 1553.5,266 1555.6,263.8 1557.7,261.6 1559.8,259.5 1561.9,257.4 1564.1,255.3 1566.3,253.3 1568.5,251.2 1570.7,249.2 1572.9,247.2 1575.2,245.3 1577.5,243.4 1579.9,241.5 1582.2,239.6 1584.6,237.8 1587.1,236 1589.5,234.3 1592,232.6 1594.5,231 1597.1,229.4 1599.6,227.9 1602.3,226.4 1604.9,225 1607.6,223.6 1610.3,222.3 1613,221 1615.8,219.8 1618.5,218.7 1621.3,217.6 1624.2,216.6 1627,215.6 1629.8,214.6 1632.7,213.7 1635.6,212.9 1638.5,212.1 1641.4,211.4 1644.3,210.7 1647.2,210 1650.2,209.4 1653.1,208.8 1656.1,208.2 1659,207.7 1662,207.2 1665,206.8 1667.9,206.3 1670.9,205.9 1673.9,205.5 1676.9,205.2 1679.9,204.9 1682.8,204.5 1685.8,204.3 1688.8,204 1691.8,203.7 1694.8,203.5 1697.8,203.3 1700.8,203.1 1703.8,202.9 1706.8,202.8 1709.8,202.6 1712.8,202.5 1715.8,202.3 1718.8,202.2 1721.8,202.1 1724.8,202 1727.8,201.9 1730.8,201.8 1733.8,201.7 1736.8,201.7 1739.8,201.6 1742.8,201.5 1745.8,201.5 1748.8,201.4 1751.8,201.4 1754.8,201.3 1757.8,201.3 1760.8,201.3 1763.8,201.3 1766.8,201.2 1769.8,201.2 1772.8,201.2 1775.8,201.2 1778.8,201.2 1781.8,201.2 1784.9,201.2 1787.9,201.2 1790.9,201.2 1793.9,201.2 1796.9,201.2 1799.9,201.2 1802.9,201.2 1805.9,201.2 1808.9,201.1 1811.9,201.1 1814.9,201.1 1817.9,201.1 1820.9,201.1 1823.9,201.1 1826.9,201.1 1829.9,201.1 1832.9,201.1 1835.9,201.1 1838.9,201.1 1841.9,201.1 1844.9,201.1 1847.9,201.1 1850.9,201.1 1853.9,201.1 1856.9,201.1 1859.9,201.1 1862.9,201.1 1865.9,201.1 1868.9,201.1 1871.9,201.1 1874.9,201.1 1877.9,201.1 1880.9,201.1 1883.9,201.1 1887,201.1 1890,201.1 1893,201.1 1896,201.1 1899,201.1 1902,201.1 1905,201.1 1908,201.1 1911,201.1 1914,201.1 1917,201.1 1920,201.1 1923,201.1 1926,201.1 1929,201.1 1932,201.1 1935,201.1" stroke="url(#st)" stroke-width="9" stroke-linejoin="round"/>
<polyline points="430.7,1379 528.8,1312.9 586.1,1248.7 626.8,1192.5 658.4,1139.4 684.2,1088.9 706,1040.4 724.9,997.5 741.5,961 756.4,924.1 769.9,889.2 782.2,857.1 793.5,827.5 804,799.5 813.8,773 822.9,748.6 831.5,726.5 839.6,706.3 847.2,687.7 854.5,670.2 861.4,653.7 868,637.9 874.2,623.1 880.3,609.4 886,596.7 891.6,584.9 896.9,573.9 902.1,563.5 907,553.7 911.8,544.5 916.5,535.8 921,527.7 925.3,520 929.5,512.9 933.6,506.2 937.6,499.8 941.5,493.9 945.3,488.3 948.9,483.1 952.5,478.1 956,473.5 959.4,469.2 962.7,465.2 966,461.4 969.2,457.9 972.3,454.5 975.3,451.3 978.3,448.2 981.2,445.3 984.1,442.5 986.9,439.9 989.6,437.3 992.3,434.8 995,432.4 997.6,430.1 1000.1,427.9 1002.6,425.7 1005.1,423.6 1007.5,421.6 1009.9,419.6 1012.2,417.7 1014.5,415.8 1016.8,414 1019,412.2 1021.2,410.5 1023.4,408.8 1025.5,407.1 1027.6,405.5 1029.6,403.9 1031.7,402.3 1033.7,400.8 1035.7,399.3 1037.6,397.8 1039.5,396.3 1041.4,394.9 1043.3,393.6 1045.2,392.2 1047,390.9 1048.8,389.6 1050.6,388.4 1052.3,387.1 1054.1,385.9 1055.8,384.7 1057.5,383.5 1059.1,382.4 1060.8,381.2 1062.4,380.1 1064,379 1065.6,377.9 1067.2,376.8 1068.8,375.7 1070.3,374.7 1071.9,373.6 1073.4,372.6 1074.9,371.6 1076.4,370.5 1077.8,369.5 1079.3,368.5 1080.7,367.5 1082.1,366.5 1083.5,365.5 1084.9,364.5 1086.3,363.5 1087.7,362.6 1089,361.6 1090.4,360.7 1091.7,359.7 1093,358.8 1094.3,357.8 1095.6,356.9 1096.9,356 1098.2,355.1 1099.4,354.2 1100.7,353.3 1101.9,352.4 1103.1,351.5 1104.3,350.6 1105.3,349.9 1106.3,349.2 1107.3,348.5 1108.2,347.8 1109.2,347.1 1110.2,346.4 1111.2,345.7 1112.1,345 1113.1,344.3 1114.1,343.6 1115.1,342.9 1116,342.2 1117,341.4 1118,340.7 1119,340 1119.9,339.3 1120.9,338.6 1121.9,337.9 1122.9,337.2 1123.8,336.5 1124.8,335.8 1125.8,335.1 1126.8,334.4 1127.7,333.7 1128.7,333 1129.7,332.3 1130.7,331.6 1131.6,330.9 1132.6,330.2 1133.6,329.5 1134.6,328.8 1135.5,328.1 1136.5,327.4 1137.5,326.7 1138.5,325.9 1139.5,325.2 1140.4,324.5 1141.4,323.8 1142.4,323.1 1143.4,322.4 1144.3,321.7 1145.3,321 1146.3,320.3 1147.3,319.6 1148.2,318.9 1149.2,318.2 1150.2,317.5 1151.2,316.8 1152.1,316.1 1153.1,315.4 1154.1,314.7 1155.1,314 1156,313.3 1157,312.6 1158,311.9 1159,311.1 1159.9,310.4 1160.9,309.7 1161.9,309 1162.9,308.3 1163.8,307.6 1164.8,306.9 1165.8,306.2 1166.8,305.5 1167.7,304.8 1168.7,304.1 1169.7,303.4 1170.7,302.7 1171.7,302 1172.6,301.3 1173.6,300.6 1174.6,299.9 1175.6,299.2 1176.5,298.5 1177.5,297.8 1178.5,297.1 1179.5,296.4 1180.5,295.7 1181.5,295 1182.4,294.3 1183.4,293.6 1184.4,292.9 1185.4,292.2 1186.4,291.5 1187.3,290.9 1188.3,290.2 1189.3,289.5 1190.3,288.8 1191.3,288.1 1192.3,287.4 1193.2,286.7 1194.2,286 1195.2,285.3 1196.2,284.6 1197.2,283.9 1198.2,283.3 1199.2,282.6 1200.2,281.9 1201.1,281.2 1202.1,280.5 1203.1,279.8 1204.1,279.1 1205.1,278.4 1206.1,277.8 1207.1,277.1 1208.1,276.4 1209.1,275.7 1210,275 1211,274.3 1212,273.7 1213,273 1214,272.3 1215,271.6 1216,270.9 1217,270.3 1218,269.6 1219,268.9 1220,268.2 1221,267.6 1222,266.9 1223,266.2 1224,265.5 1225,264.9 1226,264.2 1227,263.5 1228,262.9 1229,262.2 1230,261.5 1231,260.9 1232,260.2 1233,259.5 1234,258.9 1235,258.2 1236,257.6 1237,256.9 1238,256.3 1239,255.6 1240.1,255 1241.1,254.3 1242.1,253.7 1243.1,253 1244.1,252.4 1245.1,251.7 1246.2,251.1 1247.2,250.5 1248.2,249.8 1249.2,249.2 1250.3,248.6 1251.3,248 1252.3,247.3 1253.4,246.7 1254.4,246.1 1255.4,245.5 1256.5,244.9 1257.5,244.3 1258.5,243.7 1259.6,243.1 1260.6,242.5 1261.7,241.9 1262.7,241.3 1263.8,240.7 1264.8,240.2 1265.9,239.6 1267,239 1268,238.4 1269.1,237.9 1270.1,237.3 1271.2,236.7 1272.3,236.2 1273.3,235.6 1274.4,235.1 1275.5,234.5 1276.5,234 1277.6,233.4 1278.7,232.9 1279.8,232.3 1280.8,231.8 1281.9,231.3 1283,230.7 1284.1,230.2 1285.2,229.7 1286.2,229.2 1287.3,228.6 1288.4,228.1 1289.5,227.6 1290.6,227.1 1291.7,226.6 1292.8,226.1 1293.9,225.6 1295,225.1 1296.1,224.6 1297.2,224.1 1298.3,223.6 1299.4,223.1 1300.5,222.6 1301.6,222.2 1302.7,221.7 1303.8,221.2 1304.9,220.8 1306,220.3 1307.1,219.8 1308.2,219.4 1309.3,218.9 1310.5,218.5 1311.6,218 1312.7,217.6 1313.8,217.2 1314.9,216.7 1316.1,216.3 1317.2,215.9 1318.3,215.5 1319.5,215.1 1320.6,214.7 1321.7,214.3 1322.9,213.9 1324,213.5 1325.1,213.1 1326.3,212.7 1327.4,212.3 1328.6,211.9 1329.7,211.6 1330.8,211.2 1332,210.8 1333.1,210.4 1334.3,210.1 1335.4,209.7 1336.6,209.4 1337.8,209 1338.9,208.7 1340.1,208.3 1341.2,208 1342.4,207.7 1343.6,207.3 1344.7,207 1345.9,206.7 1347.1,206.4 1348.2,206.1 1349.4,205.8 1350.6,205.5 1351.7,205.2 1352.9,204.9 1354.1,204.7 1355.3,204.4 1356.4,204.1 1357.6,203.9 1358.8,203.6 1360,203.4 1361.2,203.1 1362.3,202.9 1363.5,202.6 1364.7,202.4 1365.9,202.2 1367.1,202 1368.3,201.7 1369.4,201.5 1370.6,201.3 1371.8,201.1 1373,200.9 1374.2,200.7 1375.4,200.6 1376.6,200.4 1377.8,200.2 1379,200 1380.2,199.9 1381.4,199.7 1382.6,199.5 1383.8,199.4 1384.9,199.2 1386.1,199.1 1387.3,199 1388.5,198.8 1389.7,198.7 1390.9,198.6 1392.1,198.5 1393.3,198.3 1394.5,198.2 1395.7,198.1 1396.9,198 1398.1,197.9 1399.3,197.8 1400.5,197.8 1401.7,197.7 1402.9,197.6 1404.1,197.6 1405.3,197.5 1406.5,197.5 1407.7,197.4 1408.9,197.4 1410.1,197.3 1411.3,197.3 1412.5,197.3 1413.7,197.2 1415,197.2 1416.2,197.2 1417.4,197.2 1418.6,197.2 1419.8,197.2 1421,197.2 1422.2,197.2 1423.4,197.2 1424.6,197.2 1425.8,197.2 1427,197.2 1428.2,197.2 1429.4,197.2 1430.6,197.3 1431.8,197.3 1433,197.3 1434.2,197.3 1435.4,197.4 1436.6,197.4" stroke="none" marker-start="url(#mt)" marker-mid="url(#mt)" marker-end="url(#mt)"/>
<polyline points="429.5,1377.1 432.1,1375.7 434.8,1374.2 437.4,1372.8 440,1371.3 442.7,1369.9 445.3,1368.4 447.9,1367 450.5,1365.5 453.1,1364 455.7,1362.5 458.3,1361 460.9,1359.5 463.5,1357.9 466,1356.4 468.6,1354.8 471.1,1353.2 473.7,1351.6 476.2,1350 478.7,1348.4 481.2,1346.7 483.7,1345 486.2,1343.3 488.6,1341.6 491.1,1339.9 493.5,1338.1 495.9,1336.3 498.3,1334.5 500.7,1332.7 503.1,1330.9 505.5,1329 507.8,1327.1 510.1,1325.3 512.4,1323.3 514.8,1321.4 517.1,1319.5 519.3,1317.5 521.6,1315.6 523.9,1313.6 526.1,1311.6 528.3,1309.6 530.6,1307.6 532.8,1305.6 535,1303.6 537.2,1301.5 539.4,1299.5 541.5,1297.4 543.7,1295.3 545.9,1293.2 548,1291.1 550.1,1289 552.2,1286.9 554.3,1284.7 556.4,1282.6 558.5,1280.4 560.6,1278.2 562.6,1276 564.6,1273.8 566.7,1271.6 568.7,1269.3 570.6,1267.1 572.6,1264.8 574.6,1262.6 576.5,1260.3 578.5,1258 580.4,1255.7 582.3,1253.4 584.2,1251.1 586.1,1248.7 588,1246.4 589.8,1244 591.7,1241.7 593.5,1239.3 595.4,1236.9 597.2,1234.5 599,1232.2 600.8,1229.8 602.6,1227.4 604.4,1225 606.2,1222.5 608,1220.1 609.8,1217.7 611.5,1215.3 613.3,1212.9 615,1210.4 616.8,1208 618.5,1205.5 620.2,1203.1 622,1200.6 623.7,1198.1 625.3,1195.7 627,1193.2 628.7,1190.7 630.3,1188.1 631.9,1185.6 633.5,1183.1 635.1,1180.5 636.6,1178 638.2,1175.4 639.7,1172.8 641.2,1170.2 642.7,1167.6 644.2,1165 645.7,1162.4 647.2,1159.8 648.6,1157.2 650.1,1154.5 651.5,1151.9 653,1149.3 654.4,1146.6 655.9,1144 657.3,1141.4 658.7,1138.7 660.2,1136.1 661.6,1133.5 663,1130.8 664.5,1128.2 665.9,1125.5 667.3,1122.9 668.7,1120.3 670.1,1117.6 671.5,1114.9 672.9,1112.3 674.3,1109.6 675.7,1107 677,1104.3 678.4,1101.6 679.8,1098.9 681.1,1096.3 682.4,1093.6 683.8,1090.9 685.1,1088.2 686.4,1085.5 687.7,1082.8 689,1080.1 690.3,1077.4 691.6,1074.7 692.9,1071.9 694.1,1069.2 695.4,1066.5 696.6,1063.8 697.8,1061 699.1,1058.3 700.3,1055.6 701.5,1052.8 702.7,1050.1 703.9,1047.3 705.1,1044.6 706.4,1041.8 707.6,1039.1 708.8,1036.3 710,1033.6 711.2,1030.8 712.4,1028.1 713.6,1025.3 714.8,1022.6 716,1019.9 717.3,1017.1 718.5,1014.4 719.7,1011.7 721,1008.9 722.3,1006.2 723.5,1003.5 724.8,1000.8 726.1,998.1 727.4,995.4 728.7,992.6 730,989.9 731.3,987.2 732.6,984.5 733.8,981.8 735.1,979.1 736.4,976.4 737.7,973.7 738.9,970.9 740.1,968.2 741.3,965.4 742.5,962.7 743.7,959.9 744.9,957.2 746,954.4 747.2,951.6 748.3,948.8 749.4,946 750.5,943.3 751.6,940.5 752.7,937.7 753.8,934.9 754.9,932.1 756,929.3 757.1,926.5 758.2,923.7 759.2,920.9 760.3,918.1 761.4,915.3 762.5,912.5 763.6,909.7 764.6,906.9 765.7,904.1 766.8,901.3 767.9,898.5 768.9,895.7 770,892.9 771.1,890.1 772.2,887.3 773.2,884.5 774.3,881.7 775.4,878.9 776.5,876.1 777.5,873.3 778.6,870.5 779.7,867.7 780.8,864.9 781.8,862.1 782.9,859.3 784,856.5 785.1,853.7 786.1,850.9 787.2,848.1 788.3,845.3 789.4,842.5 790.4,839.7 791.5,836.8 792.6,834 793.6,831.2 794.7,828.4 795.8,825.6 796.8,822.8 797.9,820 798.9,817.2 800,814.4 801,811.6 802.1,808.8 803.1,806 804.1,803.1 805.2,800.3 806.2,797.5 807.3,794.7 808.3,791.9 809.3,789.1 810.4,786.2 811.4,783.4 812.4,780.6 813.5,777.8 814.5,775 815.6,772.2 816.6,769.4 817.7,766.5 818.7,763.7 819.8,760.9 820.8,758.1 821.9,755.3 823,752.5 824,749.7 825.1,746.9 826.2,744.1 827.3,741.3 828.4,738.5 829.4,735.7 830.5,732.9 831.6,730.1 832.7,727.3 833.8,724.5 835,721.8 836.1,719 837.2,716.2 838.3,713.4 839.4,710.6 840.6,707.8 841.7,705.1 842.8,702.3 844,699.5 845.1,696.7 846.3,694 847.4,691.2 848.6,688.4 849.7,685.6 850.9,682.9 852,680.1 853.2,677.3 854.3,674.6 855.5,671.8 856.6,669 857.8,666.3 858.9,663.5 860.1,660.7 861.3,657.9 862.4,655.2 863.6,652.4 864.7,649.6 865.9,646.9 867,644.1 868.2,641.3 869.4,638.6 870.5,635.8 871.7,633 872.9,630.3 874.1,627.5 875.3,624.8 876.5,622 877.7,619.3 878.9,616.5 880.1,613.8 881.3,611 882.5,608.3 883.8,605.6 885,602.8 886.3,600.1 887.6,597.4 888.8,594.7 890.1,592 891.4,589.3 892.7,586.5 894,583.8 895.3,581.1 896.6,578.4 897.9,575.7 899.2,573 900.5,570.3 901.9,567.7 903.2,565 904.6,562.3 905.9,559.6 907.3,556.9 908.7,554.3 910,551.6 911.4,549 912.8,546.3 914.2,543.6 915.7,541 917.1,538.4 918.5,535.7 920,533.1 921.4,530.5 922.9,527.9 924.4,525.3 925.9,522.7 927.4,520.1 928.9,517.5 930.5,514.9 932,512.3 933.6,509.8 935.2,507.2 936.8,504.7 938.4,502.2 940,499.6 941.7,497.1 943.3,494.6 945,492.2 946.7,489.7 948.4,487.2 950.2,484.8 951.9,482.4 953.7,479.9 955.5,477.6 957.4,475.2 959.2,472.8 961.1,470.5 963,468.2 965,465.9 967,463.6 969,461.4 971,459.2 973,457 975.1,454.8 977.2,452.6 979.3,450.5 981.4,448.4 983.5,446.3 985.7,444.2 987.8,442.1 990,440 992.2,438 994.4,436 996.7,434 998.9,432 1001.2,430 1003.4,428 1005.7,426.1 1008,424.1 1010.3,422.2 1012.6,420.3 1014.9,418.4 1017.3,416.5 1019.6,414.6 1021.9,412.7 1024.3,410.9 1026.6,409 1029,407.2 1031.4,405.3 1033.7,403.5 1036.1,401.7 1038.5,399.8 1040.9,398 1043.3,396.3 1045.7,394.5 1048.2,392.7 1050.6,391 1053.1,389.2 1055.5,387.5 1058,385.8 1060.4,384.1 1062.9,382.3 1065.4,380.6 1067.8,378.9 1070.3,377.2 1072.7,375.5 1075.2,373.8 1077.7,372 1080.1,370.3 1082.6,368.6 1085,366.8 1087.4,365.1 1089.9,363.3 1092.3,361.6 1094.8,359.8 1097.2,358.1 1099.6,356.3 1102.1,354.6 1104.5,352.8 1106.9,351.1 1109.3,349.3 1111.8,347.5 1114.2,345.8 1116.6,344 1119.1,342.3 1121.5,340.5 1124,338.8 1126.4,337 1128.8,335.3 1131.3,333.5 1133.7,331.7 1136.1,330 1138.6,328.2 1141,326.5 1143.4,324.7 1145.9,323 1148.3,321.2 1150.7,319.4 1153.2,317.7 1155.6,315.9 1158,314.2 1160.5,312.4 1162.9,310.7 1165.3,308.9 1167.8,307.2 1170.2,305.4 1172.6,303.7 1175.1,301.9 1177.5,300.2 1180,298.5 1182.4,296.7 1184.9,295 1187.3,293.2 1189.8,291.5 1192.2,289.8 1194.7,288.1 1197.1,286.4 1199.6,284.6 1202.1,282.9 1204.5,281.2 1207,279.5 1209.5,277.8 1212,276.1 1214.4,274.4 1216.9,272.7 1219.4,271 1221.9,269.4 1224.4,267.7 1226.9,266 1229.4,264.4 1231.9,262.7 1234.4,261.1 1236.9,259.4 1239.4,257.8 1241.9,256.2 1244.5,254.6 1247,253 1249.6,251.4 1252.2,249.9 1254.7,248.3 1257.3,246.8 1259.9,245.3 1262.5,243.9 1265.2,242.4 1267.8,241 1270.5,239.6 1273.1,238.2 1275.8,236.8 1278.5,235.4 1281.1,234.1 1283.8,232.8 1286.5,231.5 1289.2,230.2 1292,228.9 1294.7,227.7 1297.4,226.5 1300.2,225.2 1302.9,224.1 1305.7,222.9 1308.5,221.8 1311.3,220.6 1314.1,219.6 1316.9,218.5 1319.7,217.5 1322.5,216.5 1325.4,215.5 1328.2,214.5 1331.1,213.6 1333.9,212.7 1336.8,211.9 1339.7,211.1 1342.6,210.3 1345.5,209.5 1348.4,208.8 1351.3,208.1 1354.3,207.5 1357.2,206.8 1360.1,206.3 1363.1,205.7 1366,205.2 1369,204.7 1372,204.2 1374.9,203.8 1377.9,203.4 1380.9,203 1383.9,202.7 1386.8,202.3 1389.8,202 1392.8,201.8 1395.8,201.6 1398.8,201.4 1401.8,201.2 1404.8,201 1407.8,200.9 1410.8,200.8 1413.8,200.7 1416.8,200.7 1419.8,200.7 1422.8,200.7 1425.8,200.7 1428.8,200.7 1431.8,200.8 1434.8,200.8 1437.8,200.9 1440.8,201" stroke="#ff8000" stroke-width="7" stroke-linecap="round" stroke-linejoin="round"/>
<polyline points="492.3,1427 590.3,1427 647.7,1427 688.4,1426.9 720,1426.9 745.7,1426.9 767.5,1426.9 786.4,1426.8 803.1,1426.8 818,1426.8 831.5,1426.8 843.8,1426.7 855.1,1426.7 865.6,1426.6 875.4,1426.6 884.5,1426.5 893.1,1426.5 901.1,1426.4 908.8,1426.3 916,1426.3 922.9,1426.2 929.5,1426.1 935.8,1426.1 941.8,1426 947.6,1425.9 953.2,1425.8 958.5,1425.8 963.6,1425.7 968.6,1425.6 973.4,1425.5 978,1425.4 982.5,1425.3 986.9,1425.2 991.1,1425.1 995.2,1425 999.2,1424.9 1003.1,1424.9 1006.8,1424.8 1010.5,1424.7 1014.1,1424.6 1017.6,1424.5 1021,1424.5 1024.3,1424.4 1027.6,1424.3 1030.8,1424.3 1033.9,1424.2 1036.9,1424.1 1039.9,1424.1 1042.8,1424 1045.7,1424 1048.5,1423.9 1051.2,1423.9 1053.9,1423.8 1056.5,1423.8 1059.1,1423.7 1061.7,1423.7 1064.2,1423.7 1066.6,1423.6 1069.1,1423.6 1071.4,1423.6 1073.8,1423.5 1076.1,1423.5 1078.3,1423.5 1080.6,1423.4 1082.8,1423.4 1084.9,1423.4 1087.1,1423.3 1089.1,1423.3 1091.2,1423.3 1093.2,1423.2 1095.3,1423.2 1097.2,1423.2 1099.2,1423.2 1101.1,1423.1 1103,1423.1 1104.9,1423.1 1106.7,1423 1108.6,1423 1110.4,1423 1112.1,1422.9 1113.9,1422.9 1115.6,1422.9 1117.3,1422.8 1119,1422.8 1120.7,1422.8 1122.4,1422.7 1124,1422.7 1125.6,1422.6 1127.2,1422.6 1128.8,1422.6 1130.4,1422.5 1131.9,1422.5 1133.4,1422.4 1134.9,1422.4 1136.4,1422.3 1137.9,1422.3 1139.4,1422.2 1140.8,1422.2 1142.3,1422.2 1143.7,1422.1 1145.1,1422.1 1146.5,1422 1147.9,1421.9 1149.2,1421.9 1150.6,1421.8 1151.9,1421.8 1153.3,1421.7 1154.6,1421.7 1155.9,1421.6 1157.2,1421.5 1158.5,1421.5 1159.7,1421.4 1161,1421.4 1162.2,1421.3 1163.5,1421.2 1164.7,1421.2 1165.9,1421.1 1167.1,1421 1168.3,1421 1169.5,1420.9 1170.7,1420.8 1171.9,1420.7 1173.1,1420.6 1174.3,1420.6 1175.5,1420.5 1176.7,1420.4 1177.9,1420.3 1179.1,1420.2 1180.3,1420.1 1181.5,1420.1 1182.7,1420 1183.9,1419.9 1185.1,1419.8 1186.3,1419.7 1187.5,1419.6 1188.7,1419.5 1189.8,1419.4 1191,1419.3 1192.2,1419.2 1193.4,1419.1 1194.6,1419 1195.8,1418.9 1197,1418.8 1198.2,1418.7 1199.4,1418.6 1200.6,1418.4 1201.8,1418.3 1203,1418.2 1204.2,1418.1 1205.4,1418 1206.6,1417.9 1207.8,1417.8 1209,1417.7 1210.2,1417.6 1211.4,1417.4 1212.6,1417.3 1213.8,1417.2 1214.9,1417.1 1216.1,1417 1217.3,1416.9 1218.5,1416.8 1219.7,1416.6 1220.9,1416.5 1222.1,1416.4 1223.3,1416.3 1224.5,1416.2 1225.7,1416.1 1226.9,1415.9 1228.1,1415.8 1229.3,1415.7 1230.5,1415.6 1231.7,1415.5 1232.9,1415.3 1234.1,1415.2 1235.2,1415.1 1236.4,1415 1237.6,1414.9 1238.8,1414.7 1240,1414.6 1241.2,1414.5 1242.4,1414.4 1243.6,1414.2 1244.8,1414.1 1246,1414 1247.2,1413.8 1248.4,1413.7 1249.6,1413.6 1250.8,1413.4 1251.9,1413.3 1253.1,1413.1 1254.3,1413 1255.5,1412.8 1256.7,1412.7 1257.9,1412.5 1259.1,1412.4 1260.3,1412.2 1261.5,1412.1 1262.7,1411.9 1263.9,1411.7 1265,1411.6 1266.2,1411.4 1267.4,1411.2 1268.6,1411.1 1269.8,1410.9 1271,1410.7 1272.2,1410.5 1273.4,1410.4 1274.5,1410.2 1275.7,1410 1276.9,1409.8 1278.1,1409.6 1279.3,1409.4 1280.5,1409.2 1281.7,1409.1 1282.8,1408.9 1284,1408.7 1285.2,1408.5 1286.4,1408.3 1287.6,1408.1 1288.8,1407.9 1289.9,1407.7 1291.1,1407.5 1292.3,1407.3 1293.5,1407.1 1294.7,1406.9 1295.9,1406.7 1297,1406.5 1298.2,1406.3 1299.4,1406.1 1300.6,1405.9 1301.8,1405.7 1302.9,1405.5 1304.1,1405.3 1305.3,1405 1306.5,1404.8 1307.7,1404.6 1308.9,1404.4 1310,1404.2 1311.2,1404 1312.4,1403.8 1313.6,1403.6 1314.8,1403.4 1315.9,1403.2 1317.1,1402.9 1318.3,1402.7 1319.5,1402.5 1320.7,1402.3 1321.8,1402.1 1323,1401.8 1324.2,1401.6 1325.4,1401.4 1326.6,1401.2 1327.7,1400.9 1328.9,1400.7 1330.1,1400.5 1331.3,1400.2 1332.4,1400 1333.6,1399.7 1334.8,1399.5 1336,1399.3 1337.1,1399 1338.3,1398.7 1339.5,1398.5 1340.7,1398.2 1341.8,1398 1343,1397.7 1344.2,1397.4 1345.3,1397.2 1346.5,1396.9 1347.7,1396.6 1348.8,1396.3 1350,1396 1351.2,1395.7 1352.3,1395.4 1353.5,1395.1 1354.6,1394.8 1355.8,1394.5 1357,1394.2 1358.1,1393.9 1359.3,1393.5 1360.4,1393.2 1361.6,1392.9 1362.7,1392.5 1363.9,1392.2 1365,1391.9 1366.2,1391.5 1367.3,1391.2 1368.5,1390.8 1369.6,1390.4 1370.8,1390.1 1371.9,1389.7 1373,1389.3 1374.2,1388.9 1375.3,1388.5 1376.4,1388.1 1377.6,1387.8 1378.7,1387.3 1379.8,1386.9 1381,1386.5 1382.1,1386.1 1383.2,1385.7 1384.3,1385.3 1385.5,1384.8 1386.6,1384.4 1387.7,1383.9 1388.8,1383.5 1389.9,1383 1391,1382.6 1392.1,1382.1 1393.2,1381.6 1394.3,1381.1 1395.4,1380.7 1396.5,1380.2 1397.6,1379.7 1398.7,1379.2 1399.8,1378.7 1400.9,1378.1 1401.9,1377.6 1403,1377.1 1404.1,1376.5 1405.2,1376 1406.2,1375.5 1407.3,1374.9 1408.4,1374.3 1409.4,1373.8 1410.5,1373.2 1411.5,1372.6 1412.6,1372 1413.6,1371.4 1414.6,1370.8 1415.7,1370.2 1416.7,1369.6 1417.7,1369 1418.8,1368.4 1419.8,1367.7 1420.8,1367.1 1421.8,1366.4 1422.8,1365.8 1423.8,1365.1 1424.8,1364.4 1425.8,1363.8 1426.8,1363.1 1427.7,1362.4 1428.7,1361.7 1429.7,1361 1430.7,1360.3 1431.6,1359.5 1432.6,1358.8 1433.5,1358.1 1434.5,1357.4 1435.4,1356.6 1436.4,1355.9 1437.3,1355.1 1438.2,1354.4 1439.1,1353.6 1440.1,1352.8 1441,1352 1441.9,1351.2 1442.8,1350.5 1443.7,1349.7 1444.6,1348.9 1445.5,1348.1 1446.4,1347.2 1447.2,1346.4 1448.1,1345.6 1449,1344.8 1449.8,1343.9 1450.7,1343.1 1451.5,1342.2 1452.4,1341.4 1453.2,1340.5 1454,1339.7 1454.9,1338.8 1455.7,1337.9 1456.5,1337 1457.3,1336.1 1458.1,1335.2 1458.9,1334.3 1459.7,1333.4 1460.4,1332.5 1461.2,1331.6 1462,1330.6 1462.7,1329.7 1463.5,1328.8 1464.2,1327.8 1464.9,1326.9 1465.6,1325.9 1466.3,1324.9 1467.1,1324 1467.7,1323 1468.4,1322 1469.1,1321 1469.8,1320 1470.5,1319 1471.1,1318 1471.8,1317 1472.4,1316 1473.1,1315 1473.7,1314 1474.3,1312.9 1474.9,1311.9 1475.6,1310.9 1476.2,1309.9 1476.8,1308.8 1477.4,1307.8 1478,1306.8 1478.6,1305.7 1479.2,1304.7 1479.8,1303.6 1480.3,1302.6 1480.9,1301.5 1481.5,1300.5 1482.1,1299.4 1482.7,1298.4 1483.2,1297.3 1483.8,1296.3 1484.4,1295.2 1484.9,1294.1 1485.5,1293.1 1486.1,1292 1486.7,1291 1487.2,1289.9 1487.8,1288.9 1488.3,1287.8 1488.9,1286.7 1489.5,1285.7 1490,1284.6 1490.6,1283.6 1491.2,1282.5 1491.7,1281.4 1492.3,1280.4 1492.9,1279.3 1493.4,1278.3 1494,1277.2 1494.5,1276.1 1495.1,1275.1 1495.7,1274 1496.2,1273 1496.8,1271.9 1497.4,1270.8 1497.9,1269.8 1498.5,1268.7 1499,1267.7 1499.6,1266.6 1500.1,1265.5 1500.7,1264.5 1501.3,1263.4 1501.8,1262.3 1502.4,1261.3 1502.9,1260.2 1503.5,1259.1 1504,1258.1 1504.6,1257 1505.1,1255.9 1505.7,1254.9 1506.2,1253.8 1506.8,1252.7 1507.3,1251.7 1507.9,1250.6 1508.4,1249.5 1508.9,1248.5 1509.5,1247.4 1510,1246.3 1510.5,1245.2 1511.1,1244.2 1511.6,1243.1 1512.1,1242 1512.7,1240.9 1513.2,1239.9 1513.7,1238.8 1514.2,1237.7 1514.8,1236.6 1515.3,1235.5 1515.8,1234.5 1516.3,1233.4 1516.8,1232.3 1517.3,1231.2 1517.9,1230.1 1518.4,1229 1518.9,1227.9 1519.4,1226.8 1519.9,1225.8 1520.4,1224.7 1520.9,1223.6 1521.4,1222.5 1521.8,1221.4 1522.3,1220.3 1522.8,1219.2 1523.3,1218.1 1523.8,1217 1524.3,1215.9 1524.8,1214.8 1525.2,1213.7 1525.7,1212.6 1526.2,1211.5 1526.7,1210.4 1527.1,1209.3 1527.6,1208.2 1528.1,1207.1 1528.5,1206 1529,1204.9 1529.4,1203.7 1529.9,1202.6 1530.4,1201.5 1530.8,1200.4 1531.3,1199.3 1531.7,1198.2 1532.2,1197.1 1532.6,1196 1533.1,1194.9 1533.5,1193.7 1534,1192.6 1534.4,1191.5 1534.8,1190.4 1535.3,1189.3 1535.7,1188.2 1536.2,1187 1536.6,1185.9 1537,1184.8 1537.5,1183.7 1537.9,1182.6 1538.3,1181.5 1538.8,1180.3 1539.2,1179.2 1539.6,1178.1 1540,1177 1540.5,1175.8 1540.9,1174.7 1541.3,1173.6 1541.7,1172.5 1542.2,1171.4 1542.6,1170.2 1543,1169.1 1543.4,1168 1543.8,1166.9 1544.2,1165.7 1544.6,1164.6 1545.1,1163.5 1545.5,1162.3 1545.9,1161.2 1546.3,1160.1 1546.7,1159 1547.1,1157.8 1547.5,1156.7 1547.9,1155.6 1548.3,1154.4 1548.7,1153.3 1549.1,1152.2 1549.5,1151 1549.9,1149.9 1550.3,1148.8 1550.7,1147.6 1551.1,1146.5 1551.5,1145.4 1551.9,1144.2 1552.2,1143.1 1552.6,1142 1553,1140.8 1553.4,1139.7 1553.8,1138.6 1554.2,1137.4 1554.5,1136.3 1554.9,1135.1 1555.3,1134 1555.7,1132.9 1556,1131.7 1556.4,1130.6 1556.8,1129.4 1557.1,1128.3 1557.5,1127.1 1557.9,1126 1558.2,1124.9 1558.6,1123.7 1558.9,1122.6 1559.3,1121.4 1559.6,1120.3 1560,1119.1 1560.3,1118 1560.7,1116.8 1561,1115.7 1561.4,1114.5 1561.7,1113.4 1562,1112.2 1562.4,1111.1 1562.7,1109.9 1563,1108.8 1563.4,1107.6 1563.7,1106.4 1564,1105.3 1564.3,1104.1 1564.6,1103 1564.9,1101.8 1565.3,1100.7 1565.6,1099.5 1565.9,1098.3 1566.2,1097.2 1566.5,1096 1566.8,1094.9 1567.1,1093.7 1567.4,1092.5 1567.7,1091.4 1568,1090.2 1568.3,1089 1568.6,1087.9 1568.8,1086.7 1569.1,1085.5 1569.4,1084.4 1569.7,1083.2 1570,1082.1 1570.3,1080.9 1570.6,1079.7 1570.8,1078.6 1571.1,1077.4 1571.4,1076.2 1571.7,1075.1 1571.9,1073.9 1572.2,1072.7 1572.5,1071.5 1572.8,1070.4 1573,1069.2 1573.3,1068 1573.6,1066.9 1573.9,1065.7 1574.1,1064.5 1574.4,1063.4 1574.7,1062.2 1575,1061 1575.2,1059.9 1575.5,1058.7 1575.8,1057.5 1576.1,1056.4 1576.3,1055.2 1576.6,1054 1576.9,1052.9 1577.2,1051.7 1577.4,1050.5 1577.7,1049.3 1578,1048.2 1578.2,1047 1578.5,1045.8 1578.8,1044.7 1579.1,1043.5 1579.3,1042.3 1579.6,1041.2 1579.9,1040 1580.2,1038.8 1580.5,1037.7 1580.7,1036.5 1581,1035.3 1581.3,1034.2 1581.6,1033 1581.8,1031.8 1582.1,1030.7 1582.4,1029.5 1582.7,1028.3 1583,1027.2 1583.2,1026 1583.5,1024.8 1583.8,1023.7 1584.1,1022.5 1584.3,1021.3 1584.6,1020.2 1584.9,1019 1585.2,1017.8 1585.5,1016.7 1585.7,1015.5 1586,1014.3 1586.3,1013.2 1586.6,1012 1586.9,1010.8 1587.1,1009.7 1587.4,1008.5 1587.7,1007.3 1588,1006.2 1588.3,1005 1588.5,1003.8 1588.8,1002.7 1589.1,1001.5 1589.4,1000.3 1589.7,999.2 1590,998 1590.2,996.8 1590.5,995.7 1590.8,994.5 1591.1,993.3 1591.4,992.2 1591.6,991 1591.9,989.8 1592.2,988.7 1592.5,987.5 1592.8,986.3 1593.1,985.2 1593.3,984 1593.6,982.8 1593.9,981.7 1594.2,980.5 1594.5,979.3 1594.8,978.2 1595,977 1595.3,975.8 1595.6,974.7 1595.9,973.5 1596.2,972.3 1596.5,971.2 1596.8,970 1597,968.8 1597.3,967.7 1597.6,966.5 1597.9,965.3 1598.2,964.2 1598.5,963 1598.8,961.8 1599,960.7 1599.3,959.5 1599.6,958.3 1599.9,957.2 1600.2,956 1600.5,954.8 1600.8,953.7 1601.1,952.5 1601.3,951.4 1601.6,950.2 1601.9,949 1602.2,947.9 1602.5,946.7 1602.8,945.5 1603.1,944.4 1603.3,943.2 1603.6,942 1603.9,940.9 1604.2,939.7 1604.5,938.5 1604.8,937.4 1605,936.2 1605.3,935 1605.6,933.9 1605.9,932.7 1606.2,931.5 1606.5,930.4 1606.7,929.2 1607,928 1607.3,926.9 1607.6,925.7 1607.9,924.5 1608.1,923.4 1608.4,922.2 1608.7,921 1609,919.9 1609.2,918.7 1609.5,917.5 1609.8,916.4 1610.1,915.2 1610.3,914 1610.6,912.9 1610.9,911.7 1611.1,910.5 1611.4,909.3 1611.7,908.2 1612,907 1612.2,905.8 1612.5,904.7 1612.8,903.5 1613,902.3 1613.3,901.2 1613.5,900 1613.8,898.8 1614.1,897.6 1614.3,896.5 1614.6,895.3 1614.9,894.1 1615.1,893 1615.4,891.8 1615.6,890.6 1615.9,889.4 1616.1,888.3 1616.4,887.1 1616.7,885.9 1616.9,884.8 1617.2,883.6 1617.4,882.4 1617.7,881.2 1617.9,880.1 1618.2,878.9 1618.4,877.7 1618.7,876.5 1618.9,875.4 1619.2,874.2 1619.5,873 1619.7,871.8 1620,870.7 1620.2,869.5 1620.5,868.3 1620.7,867.2 1621,866 1621.2,864.8 1621.5,863.6 1621.7,862.5 1622,861.3 1622.2,860.1 1622.5,858.9 1622.7,857.8 1623,856.6 1623.2,855.4 1623.5,854.3 1623.8,853.1 1624,851.9 1624.3,850.7 1624.5,849.6 1624.8,848.4 1625,847.2 1625.3,846 1625.5,844.9 1625.8,843.7 1626.1,842.5 1626.3,841.4 1626.6,840.2 1626.8,839 1627.1,837.8 1627.4,836.7 1627.6,835.5 1627.9,834.3 1628.1,833.2 1628.4,832 1628.7,830.8 1628.9,829.6 1629.2,828.5 1629.5,827.3 1629.7,826.1 1630,825 1630.3,823.8 1630.5,822.6 1630.8,821.4 1631,820.3 1631.3,819.1 1631.6,817.9 1631.9,816.8 1632.1,815.6 1632.4,814.4 1632.7,813.3 1632.9,812.1 1633.2,810.9 1633.5,809.8 1633.7,808.6 1634,807.4 1634.3,806.2 1634.5,805.1 1634.8,803.9 1635.1,802.7 1635.4,801.6 1635.6,800.4 1635.9,799.2 1636.2,798.1 1636.5,796.9 1636.7,795.7 1637,794.6 1637.3,793.4 1637.5,792.2 1637.8,791.1 1638.1,789.9 1638.4,788.7 1638.6,787.5 1638.9,786.4 1639.2,785.2 1639.5,784 1639.7,782.9 1640,781.7 1640.3,780.5 1640.6,779.4 1640.8,778.2 1641.1,777 1641.4,775.9 1641.7,774.7 1641.9,773.5 1642.2,772.4 1642.5,771.2 1642.8,770 1643.1,768.9 1643.3,767.7 1643.6,766.5 1643.9,765.4 1644.2,764.2 1644.4,763 1644.7,761.9 1645,760.7 1645.3,759.5 1645.6,758.4 1645.8,757.2 1646.1,756 1646.4,754.9 1646.7,753.7 1646.9,752.5 1647.2,751.4 1647.5,750.2 1647.8,749 1648.1,747.8 1648.3,746.7 1648.6,745.5 1648.9,744.3 1649.2,743.2 1649.5,742 1649.7,740.8 1650,739.7 1650.3,738.5 1650.6,737.3 1650.9,736.2 1651.1,735 1651.4,733.8 1651.7,732.7 1652,731.5 1652.3,730.3 1652.5,729.2 1652.8,728 1653.1,726.8 1653.4,725.7 1653.6,724.5 1653.9,723.3 1654.2,722.2 1654.5,721 1654.7,719.8 1655,718.7 1655.3,717.5 1655.5,716.3 1655.8,715.2 1656.1,714 1656.4,712.8 1656.6,711.6 1656.9,710.5 1657.1,709.3 1657.4,708.1 1657.7,707 1657.9,705.8 1658.2,704.6 1658.5,703.4 1658.7,702.3 1659,701.1 1659.2,699.9 1659.5,698.8 1659.7,697.6 1660,696.4 1660.2,695.2 1660.5,694.1 1660.7,692.9 1661,691.7 1661.2,690.5 1661.5,689.4 1661.7,688.2 1661.9,687 1662.2,685.8 1662.4,684.7 1662.7,683.5 1662.9,682.3 1663.1,681.1 1663.4,680 1663.6,678.8 1663.8,677.6 1664.1,676.4 1664.3,675.2 1664.5,674.1 1664.8,672.9 1665,671.7 1665.2,670.5 1665.5,669.4 1665.7,668.2 1665.9,667 1666.2,665.8 1666.4,664.7 1666.6,663.5 1666.9,662.3 1667.1,661.1 1667.3,659.9 1667.6,658.8 1667.8,657.6 1668,656.4 1668.3,655.2 1668.5,654.1 1668.7,652.9 1669,651.7 1669.2,650.5 1669.4,649.3 1669.7,648.2 1669.9,647 1670.2,645.8 1670.4,644.6 1670.6,643.5 1670.9,642.3 1671.1,641.1 1671.4,639.9 1671.6,638.8 1671.8,637.6 1672.1,636.4 1672.3,635.2 1672.6,634.1 1672.8,632.9 1673.1,631.7 1673.3,630.5 1673.6,629.4 1673.8,628.2 1674.1,627 1674.3,625.9 1674.6,624.7 1674.8,623.5 1675.1,622.3 1675.3,621.2 1675.6,620 1675.8,618.8 1676.1,617.6 1676.4,616.5 1676.6,615.3 1676.9,614.1 1677.1,613 1677.4,611.8 1677.7,610.6 1677.9,609.4 1678.2,608.3 1678.4,607.1 1678.7,605.9 1679,604.8 1679.2,603.6 1679.5,602.4 1679.8,601.2 1680,600.1 1680.3,598.9 1680.6,597.7 1680.9,596.6 1681.1,595.4 1681.4,594.2 1681.7,593.1 1681.9,591.9 1682.2,590.7 1682.5,589.6 1682.8,588.4 1683,587.2 1683.3,586.1 1683.6,584.9 1683.9,583.7 1684.1,582.6 1684.4,581.4 1684.7,580.2 1685,579 1685.3,577.9 1685.5,576.7 1685.8,575.5 1686.1,574.4 1686.4,573.2 1686.7,572.1 1687,570.9 1687.3,569.7 1687.5,568.6 1687.8,567.4 1688.1,566.2 1688.4,565.1 1688.7,563.9 1689,562.7 1689.3,561.6 1689.6,560.4 1689.9,559.2 1690.2,558.1 1690.5,556.9 1690.7,555.8 1691,554.6 1691.3,553.4 1691.6,552.3 1691.9,551.1 1692.2,549.9 1692.5,548.8 1692.8,547.6 1693.1,546.5 1693.4,545.3 1693.7,544.1 1694,543 1694.3,541.8 1694.7,540.6 1695,539.5 1695.3,538.3 1695.6,537.2 1695.9,536 1696.2,534.8 1696.5,533.7 1696.8,532.5 1697.1,531.4 1697.4,530.2 1697.8,529.1 1698.1,527.9 1698.4,526.7 1698.7,525.6 1699,524.4 1699.3,523.3 1699.6,522.1 1700,521 1700.3,519.8 1700.6,518.6 1700.9,517.5 1701.2,516.3 1701.6,515.2 1701.9,514 1702.2,512.9 1702.5,511.7 1702.9,510.5 1703.2,509.4 1703.5,508.2 1703.8,507.1 1704.2,505.9 1704.5,504.8 1704.8,503.6 1705.2,502.5 1705.5,501.3 1705.8,500.2 1706.2,499 1706.5,497.9 1706.8,496.7 1707.2,495.5 1707.5,494.4 1707.8,493.2 1708.2,492.1 1708.5,490.9 1708.8,489.8 1709.2,488.6 1709.5,487.5 1709.9,486.3 1710.2,485.2 1710.6,484 1710.9,482.9 1711.2,481.7 1711.6,480.6 1711.9,479.4 1712.3,478.3 1712.6,477.1 1713,476 1713.3,474.8 1713.7,473.7 1714,472.6 1714.4,471.4 1714.7,470.3 1715.1,469.1 1715.4,468 1715.8,466.8 1716.2,465.7 1716.5,464.5 1716.9,463.4 1717.2,462.2 1717.6,461.1 1718,460 1718.3,458.8 1718.7,457.7 1719.1,456.5 1719.4,455.4 1719.8,454.2 1720.2,453.1 1720.5,452 1720.9,450.8 1721.3,449.7 1721.6,448.5 1722,447.4 1722.4,446.3 1722.8,445.1 1723.2,444 1723.5,442.8 1723.9,441.7 1724.3,440.6 1724.7,439.4 1725.1,438.3 1725.5,437.2 1725.9,436 1726.2,434.9 1726.6,433.8 1727,432.6 1727.4,431.5 1727.8,430.4 1728.2,429.2 1728.6,428.1 1729,427 1729.4,425.8 1729.8,424.7 1730.2,423.6 1730.6,422.4 1731.1,421.3 1731.5,420.2 1731.9,419.1 1732.3,417.9 1732.7,416.8 1733.1,415.7 1733.6,414.6 1734,413.4 1734.4,412.3 1734.8,411.2 1735.3,410.1 1735.7,408.9 1736.1,407.8 1736.6,406.7 1737,405.6 1737.4,404.5 1737.9,403.4 1738.3,402.2 1738.8,401.1 1739.2,400 1739.7,398.9 1740.1,397.8 1740.6,396.7 1741,395.6 1741.5,394.5 1741.9,393.4 1742.4,392.2 1742.9,391.1 1743.3,390 1743.8,388.9 1744.3,387.8 1744.8,386.7 1745.2,385.6 1745.7,384.5 1746.2,383.4 1746.7,382.3 1747.2,381.2 1747.7,380.1 1748.2,379 1748.7,378 1749.1,376.9 1749.7,375.8 1750.2,374.7 1750.7,373.6 1751.2,372.5 1751.7,371.4 1752.2,370.3 1752.7,369.3 1753.2,368.2 1753.8,367.1 1754.3,366 1754.8,364.9 1755.3,363.9 1755.9,362.8 1756.4,361.7 1756.9,360.6 1757.5,359.6 1758,358.5 1758.6,357.4 1759.1,356.4 1759.7,355.3 1760.2,354.2 1760.8,353.2 1761.3,352.1 1761.9,351 1762.4,350 1763,348.9 1763.6,347.9 1764.1,346.8 1764.7,345.7 1765.3,344.7 1765.8,343.6 1766.4,342.6 1767,341.5 1767.6,340.5 1768.1,339.4 1768.7,338.4 1769.3,337.3 1769.9,336.3 1770.5,335.2 1771,334.2 1771.6,333.1 1772.2,332.1 1772.8,331 1773.4,330 1774,328.9 1774.6,327.9 1775.2,326.8 1775.8,325.8 1776.4,324.8 1777,323.7 1777.6,322.7 1778.2,321.6 1778.8,320.6 1779.4,319.6 1780,318.5 1780.6,317.5 1781.2,316.5 1781.8,315.4 1782.4,314.4 1783.1,313.4 1783.7,312.4 1784.3,311.3 1784.9,310.3 1785.5,309.3 1786.2,308.3 1786.8,307.2 1787.4,306.2 1788.1,305.2 1788.7,304.2 1789.4,303.2 1790,302.2 1790.7,301.2 1791.3,300.1 1792,299.1 1792.6,298.1 1793.3,297.1 1794,296.1 1794.6,295.1 1795.3,294.1 1796,293.2 1796.7,292.2 1797.3,291.2 1798,290.2 1798.7,289.2 1799.4,288.3 1800.1,287.3 1800.8,286.3 1801.6,285.4 1802.3,284.4 1803,283.4 1803.7,282.5 1804.5,281.5 1805.2,280.6 1806,279.6 1806.7,278.7 1807.5,277.8 1808.2,276.9 1809,275.9 1809.8,275 1810.5,274.1 1811.3,273.2 1812.1,272.3 1812.9,271.4 1813.7,270.5 1814.5,269.6 1815.3,268.7 1816.1,267.8 1816.9,266.9 1817.8,266.1 1818.6,265.2 1819.4,264.3 1820.3,263.5 1821.1,262.6 1821.9,261.8 1822.8,260.9 1823.7,260.1 1824.5,259.2 1825.4,258.4 1826.3,257.6 1827.1,256.8 1828,256 1828.9,255.1 1829.8,254.3 1830.7,253.5 1831.6,252.7 1832.5,252 1833.4,251.2 1834.3,250.4 1835.2,249.6 1836.1,248.8 1837.1,248.1 1838,247.3 1838.9,246.6 1839.9,245.8 1840.8,245.1 1841.7,244.3 1842.7,243.6 1843.6,242.9 1844.6,242.1 1845.6,241.4 1846.5,240.7 1847.5,240 1848.5,239.3 1849.4,238.6 1850.4,237.9 1851.4,237.2 1852.4,236.6 1853.4,235.9 1854.4,235.2 1855.4,234.6 1856.4,233.9 1857.4,233.3 1858.4,232.6 1859.5,232 1860.5,231.4 1861.5,230.7 1862.5,230.1 1863.6,229.5 1864.6,228.9 1865.7,228.3 1866.7,227.7 1867.8,227.2 1868.8,226.6 1869.9,226 1870.9,225.5 1872,224.9 1873.1,224.4 1874.1,223.8 1875.2,223.3 1876.3,222.7 1877.4,222.2 1878.4,221.7 1879.5,221.2 1880.6,220.7 1881.7,220.2 1882.8,219.7 1883.9,219.2 1885,218.7 1886.1,218.3 1887.2,217.8 1888.3,217.4 1889.4,216.9 1890.6,216.5 1891.7,216 1892.8,215.6 1893.9,215.2 1895,214.7 1896.2,214.3 1897.3,213.9 1898.4,213.5 1899.6,213.1 1900.7,212.7 1901.8,212.3 1903,212 1904.1,211.6 1905.2,211.2 1906.4,210.9 1907.5,210.5 1908.7,210.1 1909.8,209.8 1911,209.5 1912.1,209.1 1913.3,208.8 1914.4,208.5 1915.6,208.1 1916.8,207.8 1917.9,207.5 1919.1,207.2 1920.2,206.9 1921.4,206.6 1922.6,206.3 1923.7,206 1924.9,205.8 1926.1,205.5 1927.2,205.2 1928.4,204.9 1929.6,204.7 1930.7,204.4 1931.9,204.1 1933.1,203.9 1934.3,203.6 1935.4,203.4 1936.6,203.1 1937.8,202.9 1939,202.7 1940.1,202.4 1941.3,202.2 1942.5,202 1943.7,201.7 1944.8,201.5 1946,201.3 1947.2,201.1 1948.4,200.9 1949.6,200.7 1950.8,200.5 1951.9,200.3 1953.1,200.1 1954.3,199.9 1955.5,199.7 1956.7,199.5 1957.9,199.3 1959,199.1 1960.2,198.9 1961.4,198.8 1962.6,198.6 1963.8,198.4 1965,198.2 1966.2,198.1 1967.4,197.9 1968.6,197.8 1969.7,197.6 1970.9,197.4 1972.1,197.3 1973.3,197.2 1974.5,197 1975.7,196.9 1976.9,196.7 1978.1,196.6 1979.3,196.4 1980.5,196.3 1981.7,196.2 1982.9,196.1 1984,195.9 1985.2,195.8 1986.4,195.7 1987.6,195.6 1988.8,195.5 1990,195.3 1991.2,195.2 1992.4,195.1 1993.6,195 1994.8,194.9 1996,194.8 1997.2,194.7 1998.4,194.6 1999.6,194.5 2000.8,194.4 2002,194.3 2003.2,194.2 2004.4,194.1 2005.6,194 2006.8,193.9 2008,193.9 2009.2,193.8 2010.3,193.7 2011.5,193.6 2012.7,193.5 2013.9,193.5 2015.1,193.4 2016.3,193.3 2017.5,193.2 2018.7,193.2 2019.9,193.1 2021.1,193 2022.3,193 2023.5,192.9 2024.7,192.8 2025.9,192.8 2027.1,192.7 2028.3,192.7 2029.5,192.6 2030.7,192.6 2031.9,192.5 2033.1,192.4 2034.3,192.4 2035.5,192.3 2036.7,192.3 2037.9,192.3 2039.1,192.2 2040.3,192.2 2041.5,192.1 2042.7,192.1 2043.9,192 2045.1,192 2046.3,192 2047.5,191.9 2048.7,191.9 2049.9,191.9 2051.1,191.8 2052.3,191.8 2053.5,191.8 2054.7,191.7 2055.9,191.7 2057.1,191.7 2058.3,191.6 2059.5,191.6 2060.7,191.6 2061.9,191.6 2063.1,191.5 2064.3,191.5 2065.5,191.5 2066.7,191.5 2067.9,191.4 2069.1,191.4 2070.3,191.4 2071.5,191.4 2072.7,191.3 2073.9,191.3 2075.1,191.3 2076.3,191.3 2077.5,191.3 2078.7,191.3 2079.9,191.2 2081.1,191.2 2082.3,191.2 2083.5,191.2 2084.7,191.2 2085.9,191.2 2087.1,191.2 2088.3,191.1 2089.5,191.1 2090.7,191.1 2091.9,191.1 2093.1,191.1 2094.3,191.1 2095.5,191.1 2096.7,191.1 2097.9,191.1 2099.1,191.1 2100.3,191.1 2101.5,191.1 2102.7,191.1 2103.9,191 2105.1,191 2106.3,191 2107.5,191 2108.7,191 2109.9,191 2111.1,191 2112.3,191 2113.5,191 2114.7,191 2115.9,191 2117.1,191 2118.3,191" stroke="none" marker-start="url(#md)" marker-mid="url(#md)" marker-end="url(#md)"/>
<polyline points="487,1425.5 490,1425.5 493,1425.5 496,1425.5 499,1425.5 502,1425.5 505,1425.5 508,1425.5 511,1425.5 514,1425.5 517,1425.5 520,1425.5 523,1425.5 526,1425.5 529,1425.5 532,1425.5 535,1425.5 538,1425.5 541,1425.5 544,1425.5 547,1425.5 550,1425.5 553,1425.5 556,1425.5 559,1425.5 562,1425.5 565,1425.4 568,1425.4 571,1425.4 574,1425.4 577,1425.4 580.1,1425.4 583.1,1425.4 586.1,1425.4 589.1,1425.4 592.1,1425.4 595.1,1425.4 598.1,1425.4 601.1,1425.4 604.1,1425.4 607.1,1425.4 610.1,1425.4 613.1,1425.4 616.1,1425.4 619.1,1425.4 622.1,1425.4 625.1,1425.4 628.1,1425.4 631.1,1425.3 634.1,1425.3 637.1,1425.3 640.1,1425.3 643.1,1425.3 646.1,1425.3 649.1,1425.3 652.1,1425.3 655.1,1425.3 658.1,1425.3 661.1,1425.3 664.1,1425.3 667.1,1425.3 670.1,1425.3 673.1,1425.3 676.1,1425.3 679.1,1425.2 682.1,1425.2 685.1,1425.2 688.1,1425.2 691.1,1425.2 694.1,1425.2 697.1,1425.2 700.1,1425.2 703.1,1425.2 706.1,1425.2 709.1,1425.2 712.1,1425.2 715.1,1425.2 718.1,1425.2 721.1,1425.1 724.1,1425.1 727.1,1425.1 730.1,1425.1 733.1,1425.1 736.1,1425.1 739.1,1425.1 742.1,1425.1 745.1,1425.1 748.1,1425.1 751.1,1425 754.1,1425 757.1,1425 760.1,1425 763.2,1425 766.2,1425 769.2,1425 772.2,1425 775.2,1424.9 778.2,1424.9 781.2,1424.9 784.2,1424.9 787.2,1424.9 790.2,1424.9 793.2,1424.9 796.2,1424.8 799.2,1424.8 802.2,1424.8 805.2,1424.8 808.2,1424.8 811.2,1424.8 814.2,1424.7 817.2,1424.7 820.2,1424.7 823.2,1424.7 826.2,1424.7 829.2,1424.6 832.2,1424.6 835.2,1424.6 838.2,1424.6 841.2,1424.6 844.2,1424.5 847.2,1424.5 850.2,1424.5 853.2,1424.5 856.2,1424.4 859.2,1424.4 862.2,1424.4 865.2,1424.3 868.2,1424.3 871.2,1424.3 874.2,1424.3 877.2,1424.2 880.2,1424.2 883.2,1424.2 886.2,1424.1 889.2,1424.1 892.2,1424 895.2,1424 898.2,1423.9 901.2,1423.9 904.2,1423.8 907.2,1423.8 910.2,1423.7 913.2,1423.6 916.2,1423.5 919.2,1423.5 922.2,1423.4 925.2,1423.3 928.2,1423.2 931.2,1423.1 934.2,1423 937.2,1422.9 940.2,1422.8 943.2,1422.6 946.2,1422.5 949.2,1422.4 952.2,1422.3 955.2,1422.2 958.2,1422 961.2,1421.9 964.2,1421.8 967.2,1421.6 970.2,1421.5 973.2,1421.4 976.2,1421.2 979.2,1421.1 982.2,1420.9 985.2,1420.8 988.2,1420.6 991.2,1420.5 994.2,1420.3 997.2,1420.1 1000.2,1420 1003.2,1419.8 1006.2,1419.7 1009.2,1419.5 1012.2,1419.3 1015.2,1419.2 1018.2,1419 1021.2,1418.8 1024.2,1418.6 1027.2,1418.5 1030.2,1418.3 1033.2,1418.1 1036.2,1418 1039.2,1417.8 1042.2,1417.6 1045.1,1417.5 1048.1,1417.3 1051.1,1417.1 1054.1,1417 1057.1,1416.8 1060.1,1416.6 1063.1,1416.5 1066.1,1416.3 1069.1,1416.1 1072.1,1416 1075.1,1415.8 1078.1,1415.7 1081.1,1415.5 1084.1,1415.4 1087.1,1415.2 1090.1,1415.1 1093.1,1414.9 1096.1,1414.7 1099.1,1414.6 1102.1,1414.4 1105.1,1414.3 1108.1,1414.1 1111.1,1414 1114.1,1413.8 1117.1,1413.6 1120.1,1413.5 1123.1,1413.3 1126.1,1413.2 1129.1,1413 1132.1,1412.8 1135.1,1412.7 1138.1,1412.5 1141.1,1412.3 1144.1,1412.1 1147.1,1411.9 1150.1,1411.8 1153,1411.6 1156,1411.4 1159,1411.2 1162,1411 1165,1410.8 1168,1410.6 1171,1410.3 1174,1410.1 1177,1409.9 1180,1409.6 1183,1409.4 1186,1409.1 1189,1408.9 1192,1408.6 1194.9,1408.3 1197.9,1408 1200.9,1407.7 1203.9,1407.4 1206.9,1407.1 1209.9,1406.8 1212.9,1406.4 1215.8,1406.1 1218.8,1405.8 1221.8,1405.4 1224.8,1405 1227.8,1404.6 1230.7,1404.3 1233.7,1403.9 1236.7,1403.5 1239.7,1403.1 1242.6,1402.7 1245.6,1402.3 1248.6,1401.8 1251.5,1401.4 1254.5,1401 1257.5,1400.6 1260.5,1400.1 1263.4,1399.7 1266.4,1399.2 1269.4,1398.8 1272.3,1398.3 1275.3,1397.8 1278.3,1397.3 1281.2,1396.8 1284.2,1396.3 1287.1,1395.8 1290.1,1395.2 1293,1394.6 1296,1394 1298.9,1393.4 1301.8,1392.7 1304.7,1392.1 1307.7,1391.4 1310.6,1390.6 1313.5,1389.9 1316.4,1389.1 1319.3,1388.3 1322.2,1387.5 1325.1,1386.7 1328,1385.9 1330.8,1385.1 1333.7,1384.2 1336.6,1383.4 1339.5,1382.5 1342.3,1381.6 1345.2,1380.7 1348.1,1379.8 1350.9,1378.9 1353.8,1377.9 1356.6,1377 1359.5,1376 1362.3,1375.1 1365.1,1374 1367.9,1373 1370.8,1372 1373.6,1370.9 1376.4,1369.8 1379.2,1368.7 1381.9,1367.6 1384.7,1366.5 1387.5,1365.3 1390.2,1364.1 1393,1362.8 1395.7,1361.6 1398.4,1360.3 1401.1,1359 1403.8,1357.7 1406.5,1356.3 1409.1,1354.9 1411.8,1353.5 1414.4,1352.1 1417,1350.6 1419.6,1349.1 1422.2,1347.6 1424.8,1346.1 1427.4,1344.5 1429.9,1342.9 1432.4,1341.3 1435,1339.7 1437.5,1338 1440,1336.3 1442.4,1334.6 1444.9,1332.9 1447.3,1331.1 1449.7,1329.3 1452.1,1327.5 1454.5,1325.7 1456.8,1323.8 1459.1,1321.9 1461.4,1320 1463.7,1318 1466,1316 1468.2,1314 1470.4,1312 1472.6,1309.9 1474.7,1307.8 1476.9,1305.7 1479,1303.6 1481.1,1301.4 1483.1,1299.2 1485.2,1297 1487.2,1294.8 1489.2,1292.6 1491.1,1290.3 1493.1,1288 1495,1285.7 1496.9,1283.4 1498.8,1281 1500.6,1278.7 1502.4,1276.3 1504.2,1273.8 1506,1271.4 1507.7,1269 1509.4,1266.5 1511,1264 1512.7,1261.5 1514.3,1258.9 1515.8,1256.4 1517.4,1253.8 1518.9,1251.2 1520.4,1248.6 1521.8,1246 1523.3,1243.3 1524.7,1240.7 1526.1,1238.1 1527.5,1235.4 1528.9,1232.7 1530.3,1230.1 1531.7,1227.4 1533,1224.7 1534.4,1222 1535.7,1219.4 1537.1,1216.7 1538.4,1214 1539.7,1211.3 1541,1208.6 1542.3,1205.9 1543.6,1203.1 1544.8,1200.4 1546.1,1197.7 1547.3,1194.9 1548.5,1192.2 1549.7,1189.4 1550.8,1186.7 1552,1183.9 1553.1,1181.1 1554.2,1178.3 1555.2,1175.5 1556.3,1172.7 1557.3,1169.9 1558.3,1167 1559.3,1164.2 1560.3,1161.4 1561.3,1158.5 1562.2,1155.7 1563.2,1152.8 1564.1,1150 1565,1147.1 1565.9,1144.3 1566.8,1141.4 1567.7,1138.5 1568.6,1135.7 1569.5,1132.8 1570.4,1129.9 1571.2,1127.1 1572.1,1124.2 1573,1121.3 1573.8,1118.4 1574.7,1115.5 1575.5,1112.7 1576.3,1109.8 1577.2,1106.9 1578,1104 1578.8,1101.1 1579.6,1098.2 1580.4,1095.3 1581.2,1092.4 1582,1089.5 1582.7,1086.6 1583.5,1083.7 1584.2,1080.8 1585,1077.9 1585.7,1075 1586.5,1072.1 1587.2,1069.2 1587.9,1066.3 1588.6,1063.4 1589.3,1060.4 1590,1057.5 1590.7,1054.6 1591.4,1051.7 1592,1048.7 1592.7,1045.8 1593.3,1042.9 1593.9,1039.9 1594.6,1037 1595.2,1034.1 1595.8,1031.1 1596.4,1028.2 1597,1025.2 1597.6,1022.3 1598.2,1019.4 1598.8,1016.4 1599.4,1013.5 1600,1010.5 1600.5,1007.6 1601.1,1004.6 1601.7,1001.7 1602.3,998.7 1602.8,995.8 1603.4,992.9 1604,989.9 1604.5,987 1605.1,984 1605.7,981.1 1606.3,978.1 1606.8,975.2 1607.4,972.2 1608,969.3 1608.5,966.3 1609.1,963.4 1609.7,960.4 1610.3,957.5 1610.8,954.5 1611.4,951.6 1612,948.6 1612.5,945.7 1613.1,942.8 1613.6,939.8 1614.2,936.9 1614.8,933.9 1615.3,931 1615.9,928 1616.4,925 1616.9,922.1 1617.5,919.1 1618,916.2 1618.5,913.2 1619,910.3 1619.6,907.3 1620.1,904.4 1620.6,901.4 1621.1,898.4 1621.6,895.5 1622.1,892.5 1622.6,889.6 1623,886.6 1623.5,883.6 1624,880.7 1624.5,877.7 1625,874.7 1625.4,871.8 1625.9,868.8 1626.4,865.9 1626.8,862.9 1627.3,859.9 1627.8,857 1628.2,854 1628.7,851 1629.2,848.1 1629.7,845.1 1630.1,842.1 1630.6,839.2 1631.1,836.2 1631.6,833.2 1632.1,830.3 1632.6,827.3 1633,824.4 1633.5,821.4 1634,818.4 1634.5,815.5 1635,812.5 1635.5,809.6 1636,806.6 1636.5,803.6 1637,800.7 1637.5,797.7 1638,794.8 1638.5,791.8 1639,788.8 1639.4,785.9 1639.9,782.9 1640.4,779.9 1640.9,777 1641.4,774 1641.9,771.1 1642.3,768.1 1642.8,765.1 1643.3,762.2 1643.7,759.2 1644.2,756.2 1644.7,753.3 1645.1,750.3 1645.6,747.3 1646,744.4 1646.5,741.4 1646.9,738.4 1647.4,735.5 1647.8,732.5 1648.3,729.5 1648.7,726.6 1649.1,723.6 1649.6,720.6 1650,717.6 1650.5,714.7 1650.9,711.7 1651.4,708.7 1651.8,705.8 1652.3,702.8 1652.8,699.8 1653.2,696.9 1653.7,693.9 1654.2,691 1654.6,688 1655.1,685 1655.6,682.1 1656.1,679.1 1656.6,676.1 1657.1,673.2 1657.6,670.2 1658.1,667.3 1658.6,664.3 1659.1,661.3 1659.6,658.4 1660.1,655.4 1660.6,652.5 1661.1,649.5 1661.6,646.6 1662.1,643.6 1662.7,640.6 1663.2,637.7 1663.7,634.7 1664.2,631.8 1664.7,628.8 1665.2,625.8 1665.7,622.9 1666.2,619.9 1666.7,617 1667.2,614 1667.7,611.1 1668.2,608.1 1668.7,605.1 1669.2,602.2 1669.7,599.2 1670.2,596.2 1670.7,593.3 1671.2,590.3 1671.7,587.4 1672.2,584.4 1672.7,581.5 1673.2,578.5 1673.7,575.5 1674.2,572.6 1674.8,569.6 1675.3,566.7 1675.8,563.7 1676.4,560.8 1676.9,557.8 1677.5,554.9 1678.1,551.9 1678.7,549 1679.2,546 1679.9,543.1 1680.5,540.2 1681.1,537.2 1681.7,534.3 1682.4,531.3 1683,528.4 1683.7,525.5 1684.3,522.6 1685,519.6 1685.7,516.7 1686.4,513.8 1687.1,510.9 1687.9,508 1688.6,505.1 1689.4,502.2 1690.1,499.3 1690.9,496.4 1691.7,493.5 1692.5,490.6 1693.4,487.7 1694.2,484.8 1695.1,481.9 1696,479.1 1696.9,476.2 1697.8,473.4 1698.7,470.5 1699.7,467.7 1700.7,464.8 1701.7,462 1702.7,459.2 1703.8,456.4 1704.8,453.6 1705.9,450.8 1707,448 1708.2,445.2 1709.3,442.4 1710.5,439.7 1711.7,436.9 1712.9,434.2 1714.2,431.4 1715.4,428.7 1716.7,426 1718,423.3 1719.4,420.6 1720.7,417.9 1722.1,415.3 1723.5,412.6 1724.9,409.9 1726.3,407.3 1727.7,404.7 1729.2,402.1 1730.7,399.4 1732.2,396.8 1733.7,394.2 1735.2,391.6 1736.7,389.1 1738.2,386.5 1739.8,383.9 1741.3,381.3 1742.9,378.8 1744.5,376.2 1746.1,373.7 1747.7,371.1 1749.3,368.6 1750.9,366.1 1752.5,363.5 1754.1,361 1755.7,358.5 1757.4,356 1759,353.5 1760.7,351 1762.3,348.4 1764,346 1765.7,343.5 1767.3,341 1769,338.5 1770.7,336 1772.4,333.5 1774.1,331.1 1775.8,328.6 1777.6,326.1 1779.3,323.7 1781,321.2 1782.7,318.8 1784.5,316.3 1786.3,313.9 1788,311.5 1789.8,309.1 1791.6,306.7 1793.4,304.3 1795.2,301.9 1797.1,299.5 1798.9,297.1 1800.8,294.8 1802.7,292.5 1804.6,290.1 1806.5,287.8 1808.4,285.5 1810.4,283.2 1812.4,281 1814.3,278.7 1816.3,276.5 1818.4,274.3 1820.4,272.1 1822.5,269.9 1824.6,267.8 1826.7,265.6 1828.8,263.5 1831,261.4 1833.1,259.3 1835.3,257.3 1837.5,255.3 1839.8,253.3 1842.1,251.3 1844.4,249.4 1846.7,247.5 1849,245.6 1851.4,243.8 1853.8,242 1856.2,240.2 1858.7,238.5 1861.2,236.8 1863.7,235.1 1866.2,233.5 1868.8,231.9 1871.3,230.4 1873.9,228.9 1876.6,227.5 1879.2,226.1 1881.9,224.7 1884.6,223.4 1887.3,222.2 1890.1,221 1892.9,219.8 1895.7,218.7 1898.5,217.7 1901.3,216.7 1904.1,215.7 1907,214.8 1909.9,213.9 1912.8,213.1 1915.7,212.4 1918.6,211.6 1921.5,210.9 1924.4,210.3 1927.4,209.7 1930.3,209.1 1933.3,208.6 1936.2,208 1939.2,207.5 1942.2,207.1 1945.1,206.6 1948.1,206.2 1951.1,205.8 1954,205.4 1957,205.1 1960,204.8 1963,204.5 1966,204.2 1969,203.9 1972,203.6 1975,203.4 1978,203.2 1980.9,203 1983.9,202.9 1986.9,202.7 1989.9,202.6 1992.9,202.4 1995.9,202.3 1998.9,202.2 2001.9,202.2 2004.9,202.1 2007.9,202 2010.9,201.9 2013.9,201.9 2016.9,201.8 2019.9,201.8 2022.9,201.8 2025.9,201.7 2028.9,201.7 2032,201.6 2035,201.6 2038,201.6 2041,201.5 2044,201.5 2047,201.5 2050,201.5 2053,201.4 2056,201.4 2059,201.4 2062,201.4 2065,201.3 2068,201.3 2071,201.3 2074,201.3 2077,201.3 2080,201.2 2083,201.2 2086,201.2 2089,201.2 2092,201.2 2095,201.2 2098,201.2 2101,201.2 2104,201.1 2107,201.1 2110,201.1 2113,201.1 2116,201.1 2119,201.1 2122,201.1 2125,201.1" stroke="url(#st)" stroke-width="9" stroke-linejoin="round"/>
</g>
<g font-size="82">
<text x="184.6" y="1450.7">0.0</text>
<text x="184.6" y="1205.5">0.2</text>
<text x="184.6" y="960.4">0.4</text>
<text x="184.6" y="715.2">0.6</text>
<text x="184.6" y="470.1">0.8</text>
<text x="184.6" y="224.9">1.0</text>
<text x="428.9" y="1644.7">10<tspan font-size="55.6" dy="-32.7">1</tspan></text>
<text x="754.6" y="1644.7">10<tspan font-size="55.6" dy="-32.7">2</tspan></text>
<text x="1080.3" y="1644.7">10<tspan font-size="55.6" dy="-32.7">3</tspan></text>
<text x="1406" y="1644.7">10<tspan font-size="55.6" dy="-32.7">4</tspan></text>
<text x="1731.7" y="1644.7">10<tspan font-size="55.6" dy="-32.7">5</tspan></text>
<text x="2057.4" y="1644.7">10<tspan font-size="55.6" dy="-32.7">6</tspan></text>
</g>
<text x="1012.5" y="1747.6" font-size="87" letter-spacing="0.65">Time (sec)</text>
<text transform="translate(129.9 975) rotate(-90)" font-size="87">Δ<tspan dx="-1.5">T/</tspan>Δ<tspan dx="-4.5">T</tspan><tspan font-size="59" dy="23.4" letter-spacing="0.7">max</tspan></text>
<g font-size="68">
<text x="426.3" y="230" letter-spacing="0.9">(a)</text>
<text x="549.4" y="230">Pd</text>
<text x="653" y="230" letter-spacing="0.75">(3nm)</text>
<text x="426.5" y="314.7" letter-spacing="0.9">(b)</text>
<text x="549.9" y="314.7">Co</text>
<text x="637.3" y="332.9" font-size="47" letter-spacing="1">35</text>
<text x="689.6" y="314.7">Pd</text>
<text x="772.5" y="332.9" font-size="47" letter-spacing="1.5">65</text>
<text x="426.5" y="415.2" letter-spacing="0.9">(c)</text>
<text x="546.2" y="415.2">Co</text>
<text x="634.2" y="433.4" font-size="47" letter-spacing="0.5">70</text>
<text x="686.1" y="415.2">Pd</text>
<text x="770.4" y="433.4" font-size="47" letter-spacing="0.5">30</text>
<text x="713" y="696" letter-spacing="1.2">(b)</text>
<text x="1153.8" y="696" letter-spacing="1.1">(a)</text>
<text x="1747.4" y="696.6" letter-spacing="0.9">(c)</text>
<text x="680.7" y="1206">k&lt;&lt;1</text>
<text x="1048.8" y="1206">k&lt;&lt;1</text>
<text x="1605.9" y="1206">k&gt;&gt;1</text>
</g>
</svg></body></html>
